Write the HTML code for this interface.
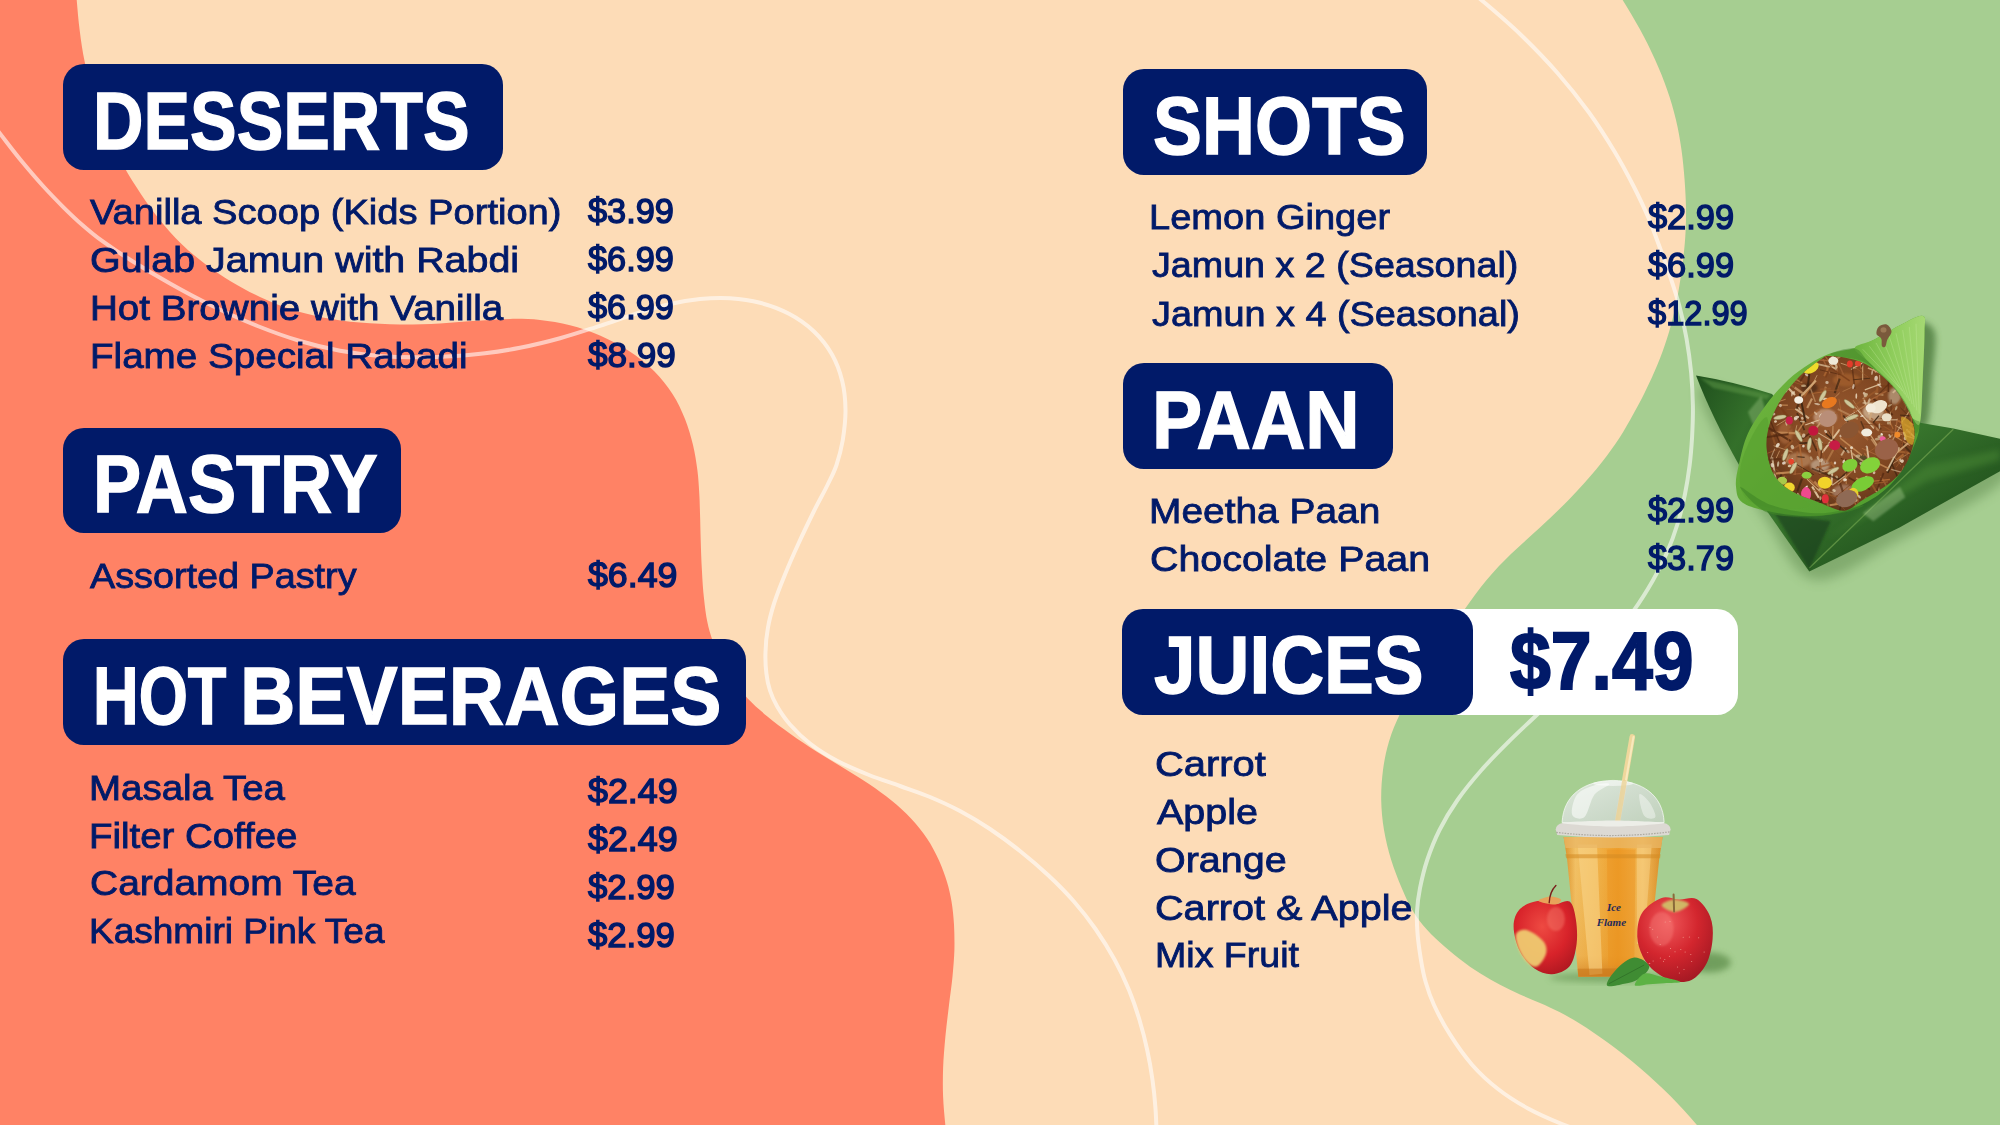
<!DOCTYPE html>
<html lang="en"><head><meta charset="utf-8"><title>Menu</title>
<style>
html,body{margin:0;padding:0}
body{width:2000px;height:1125px;overflow:hidden;position:relative;background:#FDDCB7;font-family:'Liberation Sans',sans-serif}
.bg{position:absolute;left:0;top:0}
.bx{position:absolute;border-radius:21px}
.t{position:absolute;white-space:pre;line-height:1;transform-origin:0 0;font-family:'Liberation Sans',sans-serif;margin:0;padding:0}
.h{font-size:81px;font-weight:700;color:#fff;-webkit-text-stroke:1.4px #fff;}
.hp{font-size:81px;font-weight:700;color:#011A69;-webkit-text-stroke:2.0px #011A69;}
.i{font-size:35.5px;font-weight:400;color:#011A69;-webkit-text-stroke:0.85px #011A69;}
.p{font-size:35.5px;font-weight:400;color:#011A69;-webkit-text-stroke:1.45px #011A69;}

</style></head><body>
<svg class="bg" width="2000" height="1125" viewBox="0 0 2000 1125"><rect width="2000" height="1125" fill="#FDDCB7"/><path d="M74.0,-40.0C74.4,-33.8 75.6,-14.2 76.5,-2.5C77.5,9.2 78.3,19.7 79.7,30.5C81.0,41.3 82.5,51.4 84.8,62.2C87.0,73.1 89.4,84.0 93.0,95.5C96.6,107.0 101.2,119.5 106.2,131.2C111.3,143.0 117.7,155.2 123.5,165.8C129.3,176.3 135.2,185.4 141.2,194.5C147.3,203.6 153.4,212.1 160.0,220.2C166.6,228.4 173.6,236.3 181.0,243.5C188.4,250.7 196.2,257.2 204.5,263.5C212.8,269.8 221.8,275.9 231.0,281.5C240.2,287.1 250.2,292.4 260.0,297.0C269.8,301.6 279.6,305.6 290.0,309.0C300.4,312.4 310.8,315.1 322.5,317.4C334.2,319.7 347.1,321.4 360.0,322.6C372.9,323.7 386.7,324.3 400.0,324.4C413.3,324.5 427.1,324.0 440.0,323.4C452.9,322.8 465.8,321.5 477.5,320.8C489.2,320.0 499.6,319.0 510.0,318.9C520.4,318.8 530.0,318.9 540.0,320.0C550.0,321.1 560.0,322.7 570.0,325.2C580.0,327.8 590.2,331.2 600.0,335.5C609.8,339.8 620.0,345.1 629.0,351.0C638.0,356.9 646.8,363.8 654.0,371.0C661.2,378.2 667.3,386.0 672.5,394.0C677.7,402.0 681.6,410.5 685.0,419.0C688.4,427.5 690.9,436.5 693.0,445.0C695.1,453.5 696.3,462.3 697.4,470.2C698.4,478.2 698.8,485.2 699.2,492.5C699.7,499.8 699.8,505.8 700.0,513.8C700.3,521.7 700.4,530.6 700.7,540.0C701.0,549.4 701.3,560.2 701.9,570.0C702.4,579.8 703.0,589.9 704.0,598.5C704.9,607.1 705.9,614.8 707.3,621.8C708.7,628.8 710.3,634.2 712.5,640.5C714.8,646.8 717.6,653.2 720.9,659.8C724.2,666.3 728.1,673.3 732.6,679.8C737.1,686.2 742.0,692.4 747.7,698.5C753.5,704.6 760.0,710.3 767.1,716.2C774.2,722.2 782.3,728.1 790.5,734.0C798.7,739.9 807.7,745.8 816.5,751.5C825.3,757.2 834.8,762.6 843.5,768.0C852.2,773.4 861.0,778.6 869.0,784.0C877.0,789.4 884.5,794.8 891.5,800.5C898.5,806.2 905.1,812.2 911.0,818.5C916.9,824.8 922.3,831.5 927.0,838.5C931.7,845.5 935.7,853.2 939.0,860.5C942.3,867.8 944.9,875.1 947.0,882.0C949.1,888.9 950.4,894.9 951.6,902.0C952.8,909.1 953.5,916.5 954.0,924.5C954.4,932.5 954.6,941.3 954.4,950.0C954.1,958.7 953.4,967.3 952.5,976.5C951.6,985.7 950.2,995.0 949.0,1005.0C947.8,1015.0 946.4,1026.0 945.4,1036.5C944.4,1047.0 943.5,1058.0 943.1,1068.0C942.8,1078.0 942.7,1086.8 943.1,1096.8C943.5,1106.7 944.5,1116.4 945.6,1127.8C946.8,1139.1 949.3,1158.8 950.0,1165.0L-50,1165L-50,-40Z" fill="#FF8265"/><path d="M1597.0,-40.0C1601.0,-33.8 1613.6,-14.5 1620.8,-3.0C1627.9,8.5 1634.0,18.6 1639.8,29.0C1645.5,39.4 1650.4,49.3 1655.0,59.5C1659.6,69.7 1663.8,79.9 1667.2,90.0C1670.8,100.1 1673.6,110.0 1676.0,120.0C1678.4,130.0 1680.1,140.0 1681.5,150.0C1682.9,160.0 1683.9,170.4 1684.6,180.0C1685.3,189.6 1685.8,199.0 1686.0,207.5C1686.1,216.0 1686.0,223.1 1685.6,231.2C1685.2,239.4 1684.5,247.3 1683.5,256.2C1682.5,265.2 1681.1,275.5 1679.5,285.0C1677.9,294.5 1676.1,304.1 1674.0,313.0C1671.9,321.9 1669.8,329.9 1667.0,338.5C1664.2,347.1 1661.2,355.6 1657.5,364.5C1653.8,373.4 1649.5,382.9 1645.0,392.0C1640.5,401.1 1635.4,410.6 1630.5,419.2C1625.6,427.9 1621.2,435.5 1615.5,443.8C1609.8,452.0 1604.1,459.9 1596.5,469.0C1588.9,478.1 1579.4,488.8 1570.0,498.5C1560.6,508.2 1549.8,518.3 1540.0,527.5C1530.2,536.7 1520.4,544.8 1511.5,553.5C1502.6,562.2 1494.7,570.3 1486.8,579.8C1478.8,589.2 1471.7,599.4 1464.0,610.2C1456.3,621.1 1448.3,633.1 1440.8,644.8C1433.2,656.4 1425.2,668.8 1418.5,680.1C1411.8,691.5 1405.4,702.6 1400.5,712.8C1395.6,723.0 1391.9,731.9 1389.0,741.4C1386.1,750.9 1384.3,760.2 1383.0,770.0C1381.7,779.8 1381.1,790.0 1381.2,800.0C1381.4,810.0 1382.3,820.0 1384.0,830.0C1385.7,840.0 1388.3,850.4 1391.2,860.0C1394.2,869.6 1398.1,879.4 1401.5,887.5C1404.9,895.6 1407.9,902.2 1411.5,908.5C1415.1,914.8 1418.2,919.6 1423.0,925.2C1427.8,930.9 1433.8,936.8 1440.0,942.5C1446.2,948.2 1453.3,954.1 1460.0,959.2C1466.7,964.4 1473.3,969.0 1480.0,973.2C1486.7,977.5 1493.3,981.2 1500.0,984.8C1506.7,988.3 1513.3,991.3 1520.0,994.4C1526.7,997.4 1533.5,1000.1 1540.0,1003.0C1546.5,1005.9 1552.3,1008.4 1559.0,1011.8C1565.7,1015.3 1571.8,1018.6 1580.0,1023.8C1588.2,1029.0 1598.0,1035.4 1608.0,1042.8C1618.0,1050.1 1629.6,1059.0 1640.0,1067.9C1650.4,1076.8 1660.5,1086.0 1670.4,1096.0C1680.3,1106.0 1689.4,1116.2 1699.3,1127.8C1709.2,1139.2 1724.9,1158.8 1730.0,1165.0L2050,1165L2050,-40Z" fill="#A6CE91"/><path d="M-22.0,105.0C-18.2,109.9 -6.8,124.9 0.5,134.2C7.8,143.6 14.3,152.3 21.5,161.0C28.7,169.7 36.4,178.7 43.5,186.5C50.6,194.3 57.7,201.5 64.0,207.8C70.3,214.0 75.1,218.7 81.5,224.2C87.9,229.8 94.0,235.1 102.5,241.2C111.0,247.4 121.2,254.2 132.5,261.2C143.8,268.3 156.7,276.0 170.0,283.5C183.3,291.0 197.9,298.9 212.5,306.0C227.1,313.1 242.9,320.2 257.5,326.0C272.1,331.8 286.2,336.9 300.0,341.0C313.8,345.1 326.7,348.2 340.0,350.8C353.3,353.2 366.7,354.9 380.0,356.0C393.3,357.1 407.5,357.2 420.0,357.2C432.5,357.2 444.2,356.7 455.0,356.0C465.8,355.3 474.2,354.6 485.0,353.2C495.8,351.9 507.5,350.2 520.0,347.8C532.5,345.2 546.7,341.9 560.0,338.2C573.3,334.6 587.1,329.9 600.0,325.8C612.9,321.6 625.8,316.9 637.5,313.2C649.2,309.6 659.6,306.4 670.0,304.0C680.4,301.6 690.0,300.0 700.0,299.0C710.0,298.0 720.0,297.6 730.0,298.2C740.0,298.9 750.2,300.2 760.0,302.8C769.8,305.3 780.0,309.0 789.0,313.8C798.0,318.5 806.8,324.7 814.0,331.5C821.2,338.3 827.3,346.2 832.0,354.5C836.7,362.8 840.0,371.8 842.2,381.0C844.5,390.2 845.4,400.2 845.5,410.0C845.6,419.8 844.2,430.8 842.8,440.0C841.2,449.2 839.0,457.5 836.5,465.0C834.0,472.5 831.2,477.3 827.5,485.0C823.8,492.7 818.8,501.2 814.0,511.0C809.2,520.8 803.4,532.8 798.5,543.5C793.6,554.2 788.8,565.1 784.8,575.0C780.7,584.9 777.1,594.2 774.2,603.0C771.4,611.8 769.3,619.8 767.9,628.0C766.4,636.2 765.7,644.4 765.5,652.0C765.2,659.6 765.6,667.1 766.4,673.5C767.1,679.9 768.2,685.0 770.0,690.5C771.8,696.0 773.9,700.8 777.2,706.5C780.6,712.2 784.5,718.3 790.0,724.5C795.5,730.7 802.1,737.4 810.0,743.5C817.9,749.6 827.7,755.8 837.5,761.0C847.3,766.2 858.6,770.8 869.0,775.0C879.4,779.2 889.8,782.3 900.0,786.0C910.2,789.7 920.0,792.8 930.0,797.0C940.0,801.2 950.0,805.7 960.0,811.0C970.0,816.3 980.0,822.3 990.0,829.0C1000.0,835.7 1010.2,843.2 1020.0,851.0C1029.8,858.8 1039.6,867.2 1048.5,875.5C1057.4,883.8 1065.7,892.1 1073.5,901.0C1081.3,909.9 1088.7,919.2 1095.5,929.0C1102.3,938.8 1108.9,949.3 1114.5,959.5C1120.1,969.7 1124.8,979.9 1129.0,990.0C1133.2,1000.1 1136.5,1010.0 1139.5,1020.0C1142.5,1030.0 1145.1,1040.0 1147.2,1050.0C1149.4,1060.0 1151.2,1070.6 1152.5,1080.0C1153.8,1089.4 1154.7,1097.9 1155.3,1106.2C1156.0,1114.6 1156.2,1121.0 1156.5,1130.0C1156.7,1139.0 1156.9,1155.0 1157.0,1160.0" fill="none" stroke="#fff" stroke-opacity=".58" stroke-width="4"/><path d="M1450.0,-25.0C1455.6,-20.5 1471.8,-8.2 1483.5,1.8C1495.2,11.7 1508.2,22.6 1520.5,34.5C1532.8,46.4 1546.1,60.0 1557.5,73.0C1568.9,86.0 1579.5,99.4 1589.0,112.5C1598.5,125.6 1606.9,138.9 1614.5,151.5C1622.1,164.1 1629.0,177.2 1634.5,188.0C1640.0,198.8 1643.9,207.4 1647.8,216.2C1651.6,225.1 1654.0,231.9 1657.5,241.2C1661.0,250.6 1665.1,261.8 1668.8,272.5C1672.4,283.2 1676.3,294.5 1679.2,305.5C1682.2,316.5 1684.5,327.2 1686.5,338.5C1688.5,349.8 1690.1,361.8 1691.2,373.0C1692.2,384.2 1692.7,395.1 1692.9,405.8C1693.1,416.4 1692.6,426.8 1692.1,436.8C1691.5,446.7 1690.8,456.0 1689.6,465.5C1688.4,475.0 1687.0,484.2 1685.0,494.0C1683.0,503.8 1680.5,514.2 1677.5,524.0C1674.5,533.8 1671.1,543.1 1667.0,552.5C1662.9,561.9 1658.6,570.5 1653.0,580.2C1647.4,590.0 1641.3,600.0 1633.5,610.8C1625.7,621.5 1616.4,633.4 1606.2,645.0C1596.1,656.6 1583.8,669.3 1572.5,680.6C1561.2,692.0 1549.3,702.9 1538.8,713.0C1528.2,723.2 1518.5,731.9 1509.0,741.4C1499.5,750.9 1490.1,760.2 1481.5,770.0C1472.9,779.8 1464.5,790.0 1457.5,800.0C1450.5,810.0 1444.5,820.0 1439.5,830.0C1434.5,840.0 1430.5,850.3 1427.2,860.0C1424.0,869.7 1421.7,879.7 1420.0,888.2C1418.3,896.8 1417.4,904.0 1417.0,911.5C1416.6,919.0 1416.9,925.4 1417.5,933.2C1418.1,941.1 1419.4,950.5 1420.8,958.8C1422.1,967.0 1423.5,974.8 1425.8,982.5C1428.0,990.2 1430.0,996.4 1434.0,1005.0C1438.0,1013.6 1443.4,1024.3 1449.8,1034.2C1456.1,1044.2 1464.0,1055.5 1472.0,1064.7C1480.0,1073.8 1488.7,1081.8 1498.0,1089.0C1507.3,1096.3 1517.3,1102.6 1528.0,1108.4C1538.7,1114.2 1550.0,1119.1 1562.0,1124.0C1574.0,1128.9 1593.7,1135.7 1600.0,1138.0" fill="none" stroke="#fff" stroke-opacity=".58" stroke-width="4"/></svg>
<div class="bx" style="left:63px;top:64px;width:439.5px;height:105.5px;background:#011A69"></div>
<div class="bx" style="left:63px;top:427.5px;width:338.0px;height:105.5px;background:#011A69"></div>
<div class="bx" style="left:63px;top:639px;width:683.0px;height:106.0px;background:#011A69"></div>
<div class="bx" style="left:1122.5px;top:69px;width:304.5px;height:106.0px;background:#011A69"></div>
<div class="bx" style="left:1122.5px;top:363px;width:270.5px;height:106.0px;background:#011A69"></div>
<div class="bx" style="left:1200px;top:609px;width:538.0px;height:106.0px;background:#fff"></div>
<div class="bx" style="left:1122px;top:609px;width:351.3px;height:106.0px;background:#011A69"></div>
<svg class="bg" width="2000" height="1125" viewBox="0 0 2000 1125">
<defs>
<filter id="bl3" x="-30%" y="-30%" width="160%" height="160%"><feGaussianBlur stdDeviation="3"/></filter>
<filter id="bl6" x="-30%" y="-30%" width="160%" height="160%"><feGaussianBlur stdDeviation="6"/></filter>
<filter id="bl1" x="-30%" y="-30%" width="160%" height="160%"><feGaussianBlur stdDeviation="1.2"/></filter>
<linearGradient id="dleaf" x1="0" y1="0" x2="1" y2="1"><stop offset="0" stop-color="#29622a"/><stop offset=".35" stop-color="#37742c"/><stop offset=".7" stop-color="#24561f"/><stop offset="1" stop-color="#183d17"/></linearGradient>
<linearGradient id="dleaf2" x1="0" y1="0" x2="1" y2=".6"><stop offset="0" stop-color="#1f4f1d"/><stop offset=".5" stop-color="#34702a"/><stop offset="1" stop-color="#295f23"/></linearGradient>
<linearGradient id="cone" x1="0" y1="0" x2="1" y2="1"><stop offset="0" stop-color="#7bbf45"/><stop offset=".5" stop-color="#5fa835"/><stop offset="1" stop-color="#4d9a2c"/></linearGradient>
<linearGradient id="flap" x1="0" y1="0" x2="1" y2="0"><stop offset="0" stop-color="#6db53e"/><stop offset=".55" stop-color="#8fcd5c"/><stop offset="1" stop-color="#a5d873"/></linearGradient>
<radialGradient id="fill" cx=".5" cy=".45" r=".6"><stop offset="0" stop-color="#9a5a30"/><stop offset=".7" stop-color="#7c4420"/><stop offset="1" stop-color="#573018"/></radialGradient>
<linearGradient id="juice" x1="0" y1="0" x2="1" y2="0"><stop offset="0" stop-color="#d98f28"/><stop offset=".12" stop-color="#f2c267"/><stop offset=".3" stop-color="#f1b650"/><stop offset=".55" stop-color="#ee9e2a"/><stop offset=".8" stop-color="#f3bd5e"/><stop offset="1" stop-color="#d78a24"/></linearGradient>
<linearGradient id="juiceV" x1="0" y1="0" x2="0" y2="1"><stop offset="0" stop-color="#e8a83f" stop-opacity=".0"/><stop offset=".85" stop-color="#e08a1c" stop-opacity=".25"/><stop offset="1" stop-color="#c9741a" stop-opacity=".7"/></linearGradient>
<linearGradient id="dome" x1="0" y1="0" x2="1" y2="1"><stop offset="0" stop-color="#eff1f1"/><stop offset=".5" stop-color="#dbe0de"/><stop offset="1" stop-color="#c8d2c8"/></linearGradient>
<radialGradient id="appleL" cx=".45" cy=".35" r=".75"><stop offset="0" stop-color="#ee4a42"/><stop offset=".55" stop-color="#d8232a"/><stop offset="1" stop-color="#a8161f"/></radialGradient>
<radialGradient id="appleR" cx=".4" cy=".3" r=".8"><stop offset="0" stop-color="#f0585a"/><stop offset=".5" stop-color="#d3262e"/><stop offset="1" stop-color="#9c1621"/></radialGradient>
</defs>
<g id="paan">
<path d="M1700.0,388.0C1706.2,378.2 1735.1,399.1 1772.0,406.7C1808.9,414.2 1883.3,426.2 1921.3,433.3C1959.3,440.4 1986.9,440.9 2000.0,449.3C2013.1,457.8 2016.7,468.9 2000.0,484.0C1983.3,499.1 1930.9,524.0 1900.0,540.0C1869.1,556.0 1836.9,583.1 1814.7,580.0C1792.4,576.9 1780.0,540.4 1766.7,521.3C1753.3,502.2 1745.8,487.6 1734.7,465.3C1723.6,443.1 1693.8,397.8 1700.0,388.0Z" fill="#3d6b2f" opacity=".35" filter="url(#bl6)"/>
<path d="M1916.0,324.0C1919.1,318.2 1932.0,322.7 1934.7,332.0C1937.3,341.3 1933.3,364.4 1932.0,380.0C1930.7,395.6 1930.2,418.7 1926.7,425.3C1923.1,432.0 1912.4,429.8 1910.7,420.0C1908.9,410.2 1915.1,382.7 1916.0,366.7C1916.9,350.7 1912.9,329.8 1916.0,324.0Z" fill="#3f6f33" opacity=".7" filter="url(#bl3)"/>
<path d="M1696.0,375.5 Q1732.0,381.3 1772.0,393.9 L1804.0,433.3 L1774.7,505.3 L1740.0,466.7 Q1712.0,417.3 1696.0,375.5Z" fill="url(#dleaf2)"/>
<path d="M1700.0,377.9 L1770.7,394.9 1766.7,399.2 1713.3,388.0Z" fill="#5a9444" opacity=".55" filter="url(#bl1)"/>
<path d="M1766.7,510.7 L1846.7,449.3 1920.0,422.7 1953.3,428.5 2000.0,438.7 2000.0,471.2 1900.0,527.2 1809.3,571.5 1788.0,541.3Z" fill="url(#dleaf)"/>
<path d="M1809.3,568.0 L1953.3,429.3" stroke="#6a9c4a" stroke-width="1.3" opacity=".8"/>
<path d="M1825.3,540.0 L1926.7,465.3 2000.0,449.3 2000.0,460.0 1926.7,481.3Z" fill="#4f8f38" opacity=".45" filter="url(#bl3)"/>
<path d="M1774.7,513.3 L1809.3,569.3 1830.7,521.3Z" fill="#17391a" opacity=".55" filter="url(#bl1)"/>
<path d="M1862.7,513.3 L1900.0,486.7 1905.3,497.3 1873.3,521.3Z" fill="#b9d9a0" opacity=".35" filter="url(#bl1)"/>
<path d="M1748.0,412.0 L1761.3,396.0 1766.7,414.7 1753.3,425.3Z" fill="#a8cf8c" opacity=".35" filter="url(#bl1)"/>
<path d="M1922.7,316.0C1926.8,317.1 1924.5,321.3 1924.5,332.0C1924.5,342.7 1923.4,364.9 1922.7,380.0C1921.9,395.1 1921.3,412.0 1920.0,422.7C1918.7,433.3 1918.0,435.6 1914.7,444.0C1911.3,452.4 1906.0,464.9 1900.0,473.3C1894.0,481.8 1887.6,488.4 1878.7,494.7C1869.8,500.9 1858.2,507.1 1846.7,510.7C1835.1,514.2 1821.8,515.8 1809.3,516.0C1796.9,516.2 1783.1,514.2 1772.0,512.0C1760.9,509.8 1748.7,506.9 1742.7,502.7C1736.7,498.4 1736.7,492.9 1736.0,486.7C1735.3,480.4 1736.7,474.2 1738.7,465.3C1740.7,456.4 1743.3,443.6 1748.0,433.3C1752.7,423.1 1760.0,412.9 1766.7,404.0C1773.3,395.1 1780.9,386.7 1788.0,380.0C1795.1,373.3 1802.2,368.4 1809.3,364.0C1816.4,359.6 1823.1,356.0 1830.7,353.3C1838.2,350.7 1847.6,350.2 1854.7,348.0C1861.8,345.8 1865.8,343.8 1873.3,340.0C1880.9,336.2 1891.8,329.3 1900.0,325.3C1908.2,321.3 1918.6,314.9 1922.7,316.0Z" fill="url(#cone)"/>
<path d="M1854.7,348.0C1855.6,344.4 1865.8,343.8 1873.3,340.0C1880.9,336.2 1891.8,329.3 1900.0,325.3C1908.2,321.3 1918.6,314.9 1922.7,316.0C1926.8,317.1 1924.5,321.3 1924.5,332.0C1924.5,342.7 1923.4,364.9 1922.7,380.0C1921.9,395.1 1921.8,416.4 1920.0,422.7C1918.2,428.9 1915.3,421.8 1912.0,417.3C1908.7,412.9 1904.7,402.7 1900.0,396.0C1895.3,389.3 1889.3,383.1 1884.0,377.3C1878.7,371.6 1872.9,366.2 1868.0,361.3C1863.1,356.4 1853.8,351.6 1854.7,348.0Z" fill="url(#flap)"/>
<path d="M1862.7,349.3 L1900.0,388.0" stroke="#c8ecA0" stroke-width=".7" opacity=".45"/>
<path d="M1869.3,346.1 L1902.4,391.2" stroke="#c8ecA0" stroke-width=".7" opacity=".45"/>
<path d="M1876.0,342.9 L1904.8,394.4" stroke="#c8ecA0" stroke-width=".7" opacity=".45"/>
<path d="M1882.7,339.7 L1907.2,397.6" stroke="#c8ecA0" stroke-width=".7" opacity=".45"/>
<path d="M1889.3,336.5 L1909.6,400.8" stroke="#c8ecA0" stroke-width=".7" opacity=".45"/>
<path d="M1896.0,333.3 L1912.0,404.0" stroke="#c8ecA0" stroke-width=".7" opacity=".45"/>
<path d="M1902.7,330.1 L1914.4,407.2" stroke="#c8ecA0" stroke-width=".7" opacity=".45"/>
<path d="M1909.3,326.9 L1916.8,410.4" stroke="#c8ecA0" stroke-width=".7" opacity=".45"/>
<path d="M1916.0,323.7 L1919.2,413.6" stroke="#c8ecA0" stroke-width=".7" opacity=".45"/>
<path d="M1740.0,470.7C1740.9,460.9 1746.2,447.6 1750.7,438.7C1755.1,429.8 1763.6,415.6 1766.7,417.3C1769.8,419.1 1767.6,438.7 1769.3,449.3C1771.1,460.0 1770.7,472.0 1777.3,481.3C1784.0,490.7 1810.2,500.9 1809.3,505.3C1808.4,509.8 1782.7,509.3 1772.0,508.0C1761.3,506.7 1750.7,503.6 1745.3,497.3C1740.0,491.1 1739.1,480.4 1740.0,470.7Z" fill="#5aa331" opacity=".7"/>
<path d="M1740.0,486.7C1740.9,485.5 1758.7,500.9 1772.0,505.3C1785.3,509.8 1804.9,513.3 1820.0,513.3C1835.1,513.3 1858.2,505.6 1862.7,505.3C1867.1,505.1 1855.6,510.1 1846.7,512.0C1837.8,513.9 1822.7,516.5 1809.3,516.5C1796.0,516.6 1778.2,517.2 1766.7,512.3C1755.1,507.3 1739.1,487.8 1740.0,486.7Z" fill="#3f8526" opacity=".6"/>
<clipPath id="fc"><path d="M1830.7,356.0C1837.8,356.4 1852.9,358.2 1862.7,362.7C1872.4,367.1 1881.8,374.9 1889.3,382.7C1896.9,390.4 1903.8,400.9 1908.0,409.3C1912.2,417.8 1914.7,424.9 1914.7,433.3C1914.7,441.8 1911.8,452.0 1908.0,460.0C1904.2,468.0 1899.6,474.7 1892.0,481.3C1884.4,488.0 1870.7,495.1 1862.7,500.0C1854.7,504.9 1851.1,510.2 1844.0,510.7C1836.9,511.1 1828.4,505.8 1820.0,502.7C1811.6,499.6 1800.9,496.4 1793.3,492.0C1785.8,487.6 1779.1,483.1 1774.7,476.0C1770.2,468.9 1767.6,457.8 1766.7,449.3C1765.8,440.9 1767.1,433.3 1769.3,425.3C1771.6,417.3 1775.1,409.3 1780.0,401.3C1784.9,393.3 1792.0,384.2 1798.7,377.3C1805.3,370.4 1814.7,363.6 1820.0,360.0C1825.3,356.4 1823.6,355.6 1830.7,356.0Z"/></clipPath>
<path d="M1830.7,356.0C1837.8,356.4 1852.9,358.2 1862.7,362.7C1872.4,367.1 1881.8,374.9 1889.3,382.7C1896.9,390.4 1903.8,400.9 1908.0,409.3C1912.2,417.8 1914.7,424.9 1914.7,433.3C1914.7,441.8 1911.8,452.0 1908.0,460.0C1904.2,468.0 1899.6,474.7 1892.0,481.3C1884.4,488.0 1870.7,495.1 1862.7,500.0C1854.7,504.9 1851.1,510.2 1844.0,510.7C1836.9,511.1 1828.4,505.8 1820.0,502.7C1811.6,499.6 1800.9,496.4 1793.3,492.0C1785.8,487.6 1779.1,483.1 1774.7,476.0C1770.2,468.9 1767.6,457.8 1766.7,449.3C1765.8,440.9 1767.1,433.3 1769.3,425.3C1771.6,417.3 1775.1,409.3 1780.0,401.3C1784.9,393.3 1792.0,384.2 1798.7,377.3C1805.3,370.4 1814.7,363.6 1820.0,360.0C1825.3,356.4 1823.6,355.6 1830.7,356.0Z" fill="url(#fill)"/>
<g clip-path="url(#fc)">
<ellipse cx="1825.3" cy="417.3" rx="11.7" ry="8.5" fill="#c9a184" opacity="0.75" filter="url(#bl1)"/>
<ellipse cx="1798.7" cy="460.0" rx="12.8" ry="7.5" fill="#b98a62" opacity="0.7" filter="url(#bl1)"/>
<ellipse cx="1873.3" cy="412.0" rx="10.7" ry="8.5" fill="#d9c2a4" opacity="0.7" filter="url(#bl1)"/>
<ellipse cx="1886.7" cy="449.3" rx="10.7" ry="9.6" fill="#b07a5c" opacity="0.8" filter="url(#bl1)"/>
<ellipse cx="1844.0" cy="492.0" rx="11.7" ry="7.5" fill="#a98067" opacity="0.8" filter="url(#bl1)"/>
<ellipse cx="1785.3" cy="433.3" rx="7.5" ry="10.7" fill="#a8683c" opacity="0.7" filter="url(#bl1)"/>
<ellipse cx="1846.7" cy="380.0" rx="13.9" ry="6.4" fill="#a5622f" opacity="0.7" filter="url(#bl1)"/>
<ellipse cx="1820.0" cy="465.3" rx="9.6" ry="6.4" fill="#d4c4ae" opacity="0.6" filter="url(#bl1)"/>
<ellipse cx="1862.7" cy="460.0" rx="8.5" ry="5.3" fill="#3c4a2a" opacity="0.6" filter="url(#bl1)"/>
<ellipse cx="1809.3" cy="388.0" rx="8.5" ry="5.3" fill="#4a2a18" opacity="0.7" filter="url(#bl1)"/>
<ellipse cx="1894.7" cy="396.0" rx="6.4" ry="8.5" fill="#cbb79c" opacity="0.6" filter="url(#bl1)"/>
<path d="M1817.2,375.1L1812.8,383.6" stroke="#d2a878" stroke-width="0.9" opacity="0.78"/>
<path d="M1894.4,386.9L1910.7,391.5" stroke="#552a12" stroke-width="0.9" opacity="0.72"/>
<path d="M1882.0,368.2L1898.3,382.0" stroke="#9b5a2c" stroke-width="1.6" opacity="0.71"/>
<path d="M1918.9,360.2L1906.1,366.3" stroke="#7a3e1a" stroke-width="1.6" opacity="0.78"/>
<path d="M1840.8,458.3L1859.9,464.7" stroke="#552a12" stroke-width="1.3" opacity="0.77"/>
<path d="M1767.1,358.4L1785.0,372.0" stroke="#8b4b25" stroke-width="1.9" opacity="0.74"/>
<path d="M1900.4,407.8L1908.8,416.1" stroke="#552a12" stroke-width="0.9" opacity="0.67"/>
<path d="M1838.9,398.8L1842.3,419.5" stroke="#b06a35" stroke-width="1.0" opacity="0.72"/>
<path d="M1879.6,375.1L1879.9,383.9" stroke="#e0c6a0" stroke-width="0.9" opacity="0.77"/>
<path d="M1880.8,475.8L1888.2,489.4" stroke="#a9673a" stroke-width="1.6" opacity="0.73"/>
<path d="M1891.2,491.1L1893.0,513.2" stroke="#9b5a2c" stroke-width="1.8" opacity="0.67"/>
<path d="M1851.0,449.9L1855.0,472.8" stroke="#e0c6a0" stroke-width="1.3" opacity="0.93"/>
<path d="M1819.6,444.2L1819.9,456.8" stroke="#c48a55" stroke-width="1.0" opacity="0.65"/>
<path d="M1816.5,488.6L1833.6,493.0" stroke="#d2a878" stroke-width="1.2" opacity="0.60"/>
<path d="M1839.7,429.5L1822.2,452.7" stroke="#e0c6a0" stroke-width="2.0" opacity="0.93"/>
<path d="M1784.4,378.9L1794.0,387.6" stroke="#a9673a" stroke-width="2.0" opacity="0.62"/>
<path d="M1809.9,368.1L1807.6,389.0" stroke="#3b2411" stroke-width="2.1" opacity="0.83"/>
<path d="M1846.1,447.6L1841.2,455.4" stroke="#e0c6a0" stroke-width="1.9" opacity="0.71"/>
<path d="M1828.2,367.8L1824.3,376.3" stroke="#b06a35" stroke-width="2.2" opacity="0.73"/>
<path d="M1773.6,445.7L1792.6,452.1" stroke="#d2a878" stroke-width="0.9" opacity="0.70"/>
<path d="M1772.4,486.0L1768.5,496.5" stroke="#c48a55" stroke-width="2.1" opacity="0.79"/>
<path d="M1836.9,359.4L1838.0,388.3" stroke="#a9673a" stroke-width="1.5" opacity="0.58"/>
<path d="M1773.3,399.5L1790.6,418.5" stroke="#7a3e1a" stroke-width="1.5" opacity="0.63"/>
<path d="M1916.6,400.6L1901.1,423.3" stroke="#d2a878" stroke-width="1.2" opacity="0.81"/>
<path d="M1781.0,473.1L1779.5,500.4" stroke="#3b2411" stroke-width="1.9" opacity="0.76"/>
<path d="M1873.3,398.8L1892.7,415.1" stroke="#552a12" stroke-width="1.9" opacity="0.88"/>
<path d="M1877.6,383.3L1876.7,398.8" stroke="#9b5a2c" stroke-width="2.2" opacity="0.87"/>
<path d="M1839.7,378.7L1834.7,393.2" stroke="#3b2411" stroke-width="2.1" opacity="0.70"/>
<path d="M1794.6,387.5L1804.6,394.7" stroke="#c9996a" stroke-width="2.2" opacity="0.79"/>
<path d="M1761.8,487.0L1772.1,506.2" stroke="#e0c6a0" stroke-width="1.0" opacity="0.71"/>
<path d="M1881.0,383.9L1864.8,389.8" stroke="#e0c6a0" stroke-width="1.3" opacity="0.87"/>
<path d="M1907.5,403.8L1916.1,430.7" stroke="#7a3e1a" stroke-width="1.0" opacity="0.60"/>
<path d="M1793.8,492.8L1784.7,499.1" stroke="#c9996a" stroke-width="2.2" opacity="0.81"/>
<path d="M1815.2,439.2L1822.8,442.5" stroke="#e0c6a0" stroke-width="0.9" opacity="0.85"/>
<path d="M1776.6,500.9L1798.4,516.2" stroke="#9b5a2c" stroke-width="1.2" opacity="0.67"/>
<path d="M1796.8,440.5L1808.4,452.9" stroke="#7a3e1a" stroke-width="0.9" opacity="0.85"/>
<path d="M1908.7,453.2L1892.8,463.7" stroke="#d2a878" stroke-width="1.0" opacity="0.61"/>
<path d="M1850.9,484.2L1834.9,497.8" stroke="#7a3e1a" stroke-width="1.0" opacity="0.74"/>
<path d="M1870.0,433.9L1879.9,450.2" stroke="#d2a878" stroke-width="1.5" opacity="0.86"/>
<path d="M1894.9,362.3L1902.2,367.3" stroke="#b06a35" stroke-width="1.5" opacity="0.77"/>
<path d="M1878.3,486.8L1882.0,507.5" stroke="#d2a878" stroke-width="1.6" opacity="0.63"/>
<path d="M1815.8,429.2L1800.3,440.0" stroke="#552a12" stroke-width="1.8" opacity="0.90"/>
<path d="M1910.0,382.3L1904.8,410.0" stroke="#a9673a" stroke-width="1.0" opacity="0.60"/>
<path d="M1829.2,363.9L1836.2,370.5" stroke="#e0c6a0" stroke-width="1.2" opacity="0.60"/>
<path d="M1886.1,494.2L1879.2,508.4" stroke="#c48a55" stroke-width="2.0" opacity="0.94"/>
<path d="M1796.6,494.6L1802.3,512.1" stroke="#e0c6a0" stroke-width="2.0" opacity="0.61"/>
<path d="M1828.2,430.4L1834.1,441.1" stroke="#3b2411" stroke-width="0.9" opacity="0.70"/>
<path d="M1822.0,420.4L1812.3,433.4" stroke="#d2a878" stroke-width="1.7" opacity="0.75"/>
<path d="M1787.6,499.5L1765.0,517.2" stroke="#b06a35" stroke-width="0.9" opacity="0.66"/>
<path d="M1911.1,375.2L1892.8,392.9" stroke="#e0c6a0" stroke-width="1.9" opacity="0.65"/>
<path d="M1791.5,487.0L1786.4,509.4" stroke="#b06a35" stroke-width="1.2" opacity="0.87"/>
<path d="M1791.3,491.3L1796.8,497.6" stroke="#b06a35" stroke-width="1.9" opacity="0.58"/>
<path d="M1902.6,362.6L1886.5,370.0" stroke="#3b2411" stroke-width="2.2" opacity="0.72"/>
<path d="M1891.9,450.6L1914.8,453.7" stroke="#b06a35" stroke-width="2.2" opacity="0.65"/>
<path d="M1797.5,491.3L1789.9,509.1" stroke="#552a12" stroke-width="1.2" opacity="0.75"/>
<path d="M1786.6,409.3L1799.9,410.0" stroke="#9b5a2c" stroke-width="0.8" opacity="0.75"/>
<path d="M1906.4,429.4L1919.0,441.7" stroke="#e0c6a0" stroke-width="1.9" opacity="0.72"/>
<path d="M1837.5,476.2L1843.7,494.0" stroke="#552a12" stroke-width="2.2" opacity="0.69"/>
<path d="M1894.4,457.7L1887.5,472.9" stroke="#3b2411" stroke-width="2.2" opacity="0.88"/>
<path d="M1776.8,449.6L1760.8,455.9" stroke="#9b5a2c" stroke-width="0.9" opacity="0.89"/>
<path d="M1892.5,454.6L1900.8,464.8" stroke="#c48a55" stroke-width="0.9" opacity="0.62"/>
<path d="M1803.7,349.7L1810.0,363.4" stroke="#d2a878" stroke-width="1.3" opacity="0.56"/>
<path d="M1892.1,385.6L1904.8,393.8" stroke="#b06a35" stroke-width="1.5" opacity="0.75"/>
<path d="M1789.9,434.0L1803.5,434.2" stroke="#b06a35" stroke-width="1.0" opacity="0.78"/>
<path d="M1827.4,397.8L1823.6,406.8" stroke="#d2a878" stroke-width="2.0" opacity="0.61"/>
<path d="M1903.6,465.7L1896.4,488.9" stroke="#a9673a" stroke-width="1.0" opacity="0.84"/>
<path d="M1874.5,356.1L1851.0,369.5" stroke="#e0c6a0" stroke-width="1.4" opacity="0.83"/>
<path d="M1849.3,489.7L1835.0,503.8" stroke="#9b5a2c" stroke-width="2.0" opacity="0.78"/>
<path d="M1903.7,456.3L1896.3,466.9" stroke="#9b5a2c" stroke-width="0.9" opacity="0.80"/>
<path d="M1909.3,409.8L1910.6,418.7" stroke="#9b5a2c" stroke-width="1.7" opacity="0.82"/>
<path d="M1849.4,349.4L1830.1,363.6" stroke="#d2a878" stroke-width="2.1" opacity="0.59"/>
<path d="M1844.2,458.8L1846.3,483.9" stroke="#c48a55" stroke-width="1.1" opacity="0.85"/>
<path d="M1799.5,443.6L1802.7,469.4" stroke="#b06a35" stroke-width="1.5" opacity="0.82"/>
<path d="M1883.3,447.1L1879.1,455.8" stroke="#7a3e1a" stroke-width="1.3" opacity="0.81"/>
<path d="M1861.8,448.3L1878.5,455.8" stroke="#a9673a" stroke-width="1.2" opacity="0.82"/>
<path d="M1864.2,453.0L1875.8,468.0" stroke="#a9673a" stroke-width="1.5" opacity="0.86"/>
<path d="M1912.3,436.8L1917.7,445.0" stroke="#a9673a" stroke-width="0.8" opacity="0.73"/>
<path d="M1888.0,499.0L1890.2,512.5" stroke="#552a12" stroke-width="2.1" opacity="0.92"/>
<path d="M1782.6,365.1L1773.0,374.8" stroke="#3b2411" stroke-width="1.0" opacity="0.88"/>
<path d="M1846.5,488.0L1838.8,498.4" stroke="#a9673a" stroke-width="1.4" opacity="0.61"/>
<path d="M1905.1,450.2L1912.0,472.7" stroke="#8b4b25" stroke-width="1.3" opacity="0.68"/>
<path d="M1901.3,347.1L1883.0,365.4" stroke="#b06a35" stroke-width="2.1" opacity="0.63"/>
<path d="M1765.1,467.1L1771.7,473.8" stroke="#8b4b25" stroke-width="2.2" opacity="0.79"/>
<path d="M1817.6,418.8L1823.5,425.6" stroke="#b06a35" stroke-width="0.9" opacity="0.81"/>
<path d="M1870.1,378.2L1852.9,379.8" stroke="#3b2411" stroke-width="1.1" opacity="0.70"/>
<path d="M1918.4,486.8L1900.5,498.7" stroke="#d2a878" stroke-width="1.6" opacity="0.84"/>
<path d="M1772.2,457.4L1775.9,481.2" stroke="#e0c6a0" stroke-width="2.0" opacity="0.74"/>
<path d="M1895.6,436.8L1910.1,445.4" stroke="#c48a55" stroke-width="1.2" opacity="0.85"/>
<path d="M1915.9,389.9L1909.1,402.6" stroke="#d2a878" stroke-width="1.7" opacity="0.60"/>
<path d="M1862.7,355.0L1862.7,380.3" stroke="#d2a878" stroke-width="1.1" opacity="0.91"/>
<path d="M1910.0,423.0L1921.0,428.2" stroke="#b06a35" stroke-width="1.0" opacity="0.77"/>
<path d="M1819.4,409.5L1809.3,416.4" stroke="#9b5a2c" stroke-width="1.8" opacity="0.72"/>
<path d="M1825.6,430.0L1831.3,444.1" stroke="#9b5a2c" stroke-width="1.5" opacity="0.78"/>
<path d="M1821.6,449.8L1819.3,474.6" stroke="#552a12" stroke-width="0.9" opacity="0.91"/>
<path d="M1822.5,448.7L1825.7,463.0" stroke="#9b5a2c" stroke-width="1.0" opacity="0.72"/>
<path d="M1889.9,479.5L1871.5,481.3" stroke="#b06a35" stroke-width="1.3" opacity="0.92"/>
<path d="M1896.6,487.7L1883.3,488.9" stroke="#b06a35" stroke-width="1.1" opacity="0.61"/>
<path d="M1921.6,366.9L1902.0,378.8" stroke="#a9673a" stroke-width="0.9" opacity="0.86"/>
<path d="M1767.8,371.1L1765.9,379.7" stroke="#c48a55" stroke-width="2.1" opacity="0.80"/>
<path d="M1849.3,420.2L1841.8,427.1" stroke="#c48a55" stroke-width="1.5" opacity="0.78"/>
<path d="M1825.9,386.7L1823.3,394.5" stroke="#c48a55" stroke-width="2.2" opacity="0.66"/>
<path d="M1807.0,479.2L1820.9,492.5" stroke="#d2a878" stroke-width="1.1" opacity="0.93"/>
<path d="M1862.6,402.9L1881.2,404.2" stroke="#e0c6a0" stroke-width="1.7" opacity="0.58"/>
<path d="M1797.0,413.1L1804.4,430.1" stroke="#3b2411" stroke-width="1.8" opacity="0.69"/>
<path d="M1817.9,346.7L1833.8,367.4" stroke="#b06a35" stroke-width="1.1" opacity="0.94"/>
<path d="M1808.5,478.6L1818.0,487.0" stroke="#c48a55" stroke-width="1.0" opacity="0.80"/>
<path d="M1857.1,481.0L1858.4,508.4" stroke="#9b5a2c" stroke-width="2.1" opacity="0.61"/>
<path d="M1830.9,388.5L1819.9,389.4" stroke="#9b5a2c" stroke-width="1.8" opacity="0.62"/>
<path d="M1830.9,461.8L1836.7,470.5" stroke="#b06a35" stroke-width="2.1" opacity="0.68"/>
<path d="M1797.4,497.6L1791.3,503.9" stroke="#e0c6a0" stroke-width="1.8" opacity="0.89"/>
<path d="M1909.2,422.8L1918.3,426.1" stroke="#b06a35" stroke-width="1.3" opacity="0.93"/>
<path d="M1778.9,500.4L1791.3,509.9" stroke="#c48a55" stroke-width="2.0" opacity="0.72"/>
<path d="M1768.6,416.5L1779.4,441.9" stroke="#552a12" stroke-width="1.3" opacity="0.84"/>
<path d="M1829.9,446.2L1845.1,461.2" stroke="#8b4b25" stroke-width="0.9" opacity="0.56"/>
<path d="M1767.7,489.7L1784.3,507.0" stroke="#c9996a" stroke-width="1.3" opacity="0.66"/>
<path d="M1901.8,442.9L1917.6,460.0" stroke="#3b2411" stroke-width="2.1" opacity="0.67"/>
<path d="M1886.0,440.0L1862.9,456.2" stroke="#b06a35" stroke-width="0.8" opacity="0.64"/>
<path d="M1845.7,502.8L1829.6,505.2" stroke="#c48a55" stroke-width="2.1" opacity="0.88"/>
<path d="M1772.6,432.4L1800.4,433.2" stroke="#c48a55" stroke-width="2.0" opacity="0.86"/>
<path d="M1853.1,400.1L1861.6,413.3" stroke="#c9996a" stroke-width="0.9" opacity="0.63"/>
<path d="M1874.8,393.4L1883.4,395.1" stroke="#d2a878" stroke-width="1.6" opacity="0.61"/>
<path d="M1820.0,369.9L1840.8,374.7" stroke="#552a12" stroke-width="0.9" opacity="0.75"/>
<path d="M1866.4,419.5L1878.9,430.8" stroke="#c9996a" stroke-width="2.0" opacity="0.64"/>
<path d="M1856.1,467.2L1838.1,484.1" stroke="#c48a55" stroke-width="1.2" opacity="0.78"/>
<path d="M1817.0,466.3L1827.7,474.0" stroke="#552a12" stroke-width="1.1" opacity="0.66"/>
<path d="M1895.7,383.8L1908.7,386.5" stroke="#552a12" stroke-width="1.5" opacity="0.64"/>
<path d="M1892.5,456.9L1882.3,457.2" stroke="#a9673a" stroke-width="2.0" opacity="0.64"/>
<path d="M1839.6,411.4L1827.6,416.3" stroke="#9b5a2c" stroke-width="1.1" opacity="0.94"/>
<path d="M1848.6,487.7L1858.9,512.1" stroke="#a9673a" stroke-width="1.6" opacity="0.86"/>
<path d="M1870.8,346.5L1861.1,367.5" stroke="#3b2411" stroke-width="1.1" opacity="0.70"/>
<path d="M1780.5,380.1L1795.0,395.0" stroke="#e0c6a0" stroke-width="2.1" opacity="0.88"/>
<path d="M1884.8,409.5L1893.1,429.0" stroke="#b06a35" stroke-width="1.1" opacity="0.87"/>
<path d="M1840.7,363.2L1856.3,368.4" stroke="#d2a878" stroke-width="1.0" opacity="0.76"/>
<path d="M1854.6,406.6L1873.8,428.5" stroke="#e0c6a0" stroke-width="1.2" opacity="0.93"/>
<path d="M1809.7,436.0L1817.0,451.2" stroke="#3b2411" stroke-width="1.7" opacity="0.71"/>
<path d="M1826.0,496.1L1828.3,507.2" stroke="#b06a35" stroke-width="1.9" opacity="0.71"/>
<path d="M1894.9,425.3L1902.1,429.3" stroke="#d2a878" stroke-width="1.0" opacity="0.87"/>
<path d="M1837.5,441.9L1814.4,447.3" stroke="#7a3e1a" stroke-width="1.0" opacity="0.66"/>
<path d="M1835.8,496.0L1853.2,502.2" stroke="#552a12" stroke-width="1.2" opacity="0.88"/>
<path d="M1767.4,488.4L1778.9,505.9" stroke="#e0c6a0" stroke-width="1.3" opacity="0.91"/>
<path d="M1848.5,477.6L1870.1,489.5" stroke="#552a12" stroke-width="1.7" opacity="0.80"/>
<path d="M1796.9,424.8L1795.0,433.5" stroke="#d2a878" stroke-width="1.0" opacity="0.69"/>
<path d="M1794.1,502.8L1783.9,509.4" stroke="#d2a878" stroke-width="2.0" opacity="0.82"/>
<path d="M1863.4,397.8L1869.4,414.5" stroke="#e0c6a0" stroke-width="1.9" opacity="0.81"/>
<path d="M1810.0,387.1L1815.4,402.0" stroke="#d2a878" stroke-width="1.4" opacity="0.56"/>
<path d="M1850.1,423.5L1868.1,439.9" stroke="#a9673a" stroke-width="2.0" opacity="0.87"/>
<path d="M1823.1,359.3L1829.8,373.5" stroke="#a9673a" stroke-width="1.5" opacity="0.81"/>
<path d="M1779.9,374.4L1765.6,377.9" stroke="#d2a878" stroke-width="0.9" opacity="0.85"/>
<path d="M1903.6,454.3L1897.0,459.6" stroke="#b06a35" stroke-width="2.2" opacity="0.84"/>
<path d="M1897.6,385.4L1879.1,386.5" stroke="#7a3e1a" stroke-width="1.8" opacity="0.84"/>
<path d="M1802.0,478.6L1797.4,491.1" stroke="#3b2411" stroke-width="2.1" opacity="0.66"/>
<path d="M1888.6,364.4L1888.4,392.0" stroke="#552a12" stroke-width="1.6" opacity="0.80"/>
<path d="M1795.4,408.7L1808.9,418.4" stroke="#e0c6a0" stroke-width="2.1" opacity="0.82"/>
<path d="M1904.5,378.8L1896.3,385.4" stroke="#d2a878" stroke-width="0.9" opacity="0.89"/>
<path d="M1911.7,414.7L1910.2,437.4" stroke="#b06a35" stroke-width="1.2" opacity="0.76"/>
<path d="M1891.4,462.8L1897.7,477.5" stroke="#3b2411" stroke-width="1.6" opacity="0.69"/>
<path d="M1870.7,418.1L1891.0,430.7" stroke="#9b5a2c" stroke-width="1.2" opacity="0.76"/>
<path d="M1825.7,499.9L1800.2,510.9" stroke="#3b2411" stroke-width="1.8" opacity="0.85"/>
<path d="M1803.0,393.2L1796.5,408.8" stroke="#3b2411" stroke-width="2.1" opacity="0.60"/>
<path d="M1796.6,456.7L1804.6,457.3" stroke="#3b2411" stroke-width="1.2" opacity="0.76"/>
<path d="M1843.3,415.5L1849.6,424.3" stroke="#3b2411" stroke-width="1.7" opacity="0.74"/>
<path d="M1782.8,497.0L1790.8,504.7" stroke="#b06a35" stroke-width="0.9" opacity="0.61"/>
<path d="M1877.9,389.7L1854.2,405.7" stroke="#9b5a2c" stroke-width="1.7" opacity="0.77"/>
<path d="M1816.5,442.1L1821.4,469.6" stroke="#a9673a" stroke-width="1.1" opacity="0.91"/>
<path d="M1771.3,432.0L1775.1,444.5" stroke="#9b5a2c" stroke-width="2.1" opacity="0.59"/>
<path d="M1851.3,452.7L1865.0,462.5" stroke="#d2a878" stroke-width="1.7" opacity="0.75"/>
<path d="M1856.2,478.0L1868.7,485.6" stroke="#c48a55" stroke-width="1.7" opacity="0.95"/>
<path d="M1875.8,422.0L1873.9,437.9" stroke="#8b4b25" stroke-width="1.8" opacity="0.74"/>
<path d="M1873.5,422.6L1881.3,429.3" stroke="#552a12" stroke-width="1.7" opacity="0.60"/>
<path d="M1906.5,497.9L1893.1,500.3" stroke="#9b5a2c" stroke-width="1.2" opacity="0.77"/>
<path d="M1832.3,471.1L1831.3,484.8" stroke="#e0c6a0" stroke-width="2.1" opacity="0.91"/>
<path d="M1767.7,427.5L1791.2,441.4" stroke="#552a12" stroke-width="2.1" opacity="0.85"/>
<path d="M1812.1,486.5L1818.8,497.8" stroke="#e0c6a0" stroke-width="2.1" opacity="0.94"/>
<path d="M1891.5,429.3L1893.2,448.6" stroke="#9b5a2c" stroke-width="2.0" opacity="0.72"/>
<path d="M1871.3,439.1L1878.4,449.4" stroke="#c9996a" stroke-width="1.6" opacity="0.78"/>
<path d="M1782.3,357.4L1802.3,364.8" stroke="#7a3e1a" stroke-width="1.3" opacity="0.61"/>
<path d="M1777.1,353.6L1764.8,371.3" stroke="#b06a35" stroke-width="1.8" opacity="0.58"/>
<path d="M1865.5,405.3L1844.1,419.1" stroke="#e0c6a0" stroke-width="0.9" opacity="0.90"/>
<path d="M1897.4,500.0L1909.1,504.1" stroke="#b06a35" stroke-width="0.8" opacity="0.93"/>
<path d="M1891.2,469.3L1914.3,475.8" stroke="#e0c6a0" stroke-width="1.2" opacity="0.59"/>
<path d="M1775.4,468.7L1787.2,477.6" stroke="#8b4b25" stroke-width="1.2" opacity="0.69"/>
<path d="M1915.6,354.1L1895.6,372.9" stroke="#c9996a" stroke-width="1.5" opacity="0.89"/>
<path d="M1856.7,352.5L1861.3,369.1" stroke="#b06a35" stroke-width="1.3" opacity="0.83"/>
<path d="M1851.5,387.4L1842.5,391.6" stroke="#c48a55" stroke-width="1.0" opacity="0.55"/>
<path d="M1800.9,473.6L1792.8,474.2" stroke="#a9673a" stroke-width="0.9" opacity="0.83"/>
<path d="M1894.0,492.0L1885.8,519.2" stroke="#d2a878" stroke-width="1.2" opacity="0.93"/>
<path d="M1814.5,381.7L1803.6,396.8" stroke="#b06a35" stroke-width="2.1" opacity="0.86"/>
<path d="M1840.9,504.3L1838.9,514.3" stroke="#3b2411" stroke-width="1.3" opacity="0.71"/>
<path d="M1812.6,490.1L1838.6,497.3" stroke="#9b5a2c" stroke-width="1.3" opacity="0.67"/>
<path d="M1818.2,432.9L1843.0,447.7" stroke="#e0c6a0" stroke-width="1.1" opacity="0.73"/>
<path d="M1853.8,465.1L1838.3,480.3" stroke="#3b2411" stroke-width="1.6" opacity="0.76"/>
<path d="M1897.5,418.3L1895.0,433.0" stroke="#a9673a" stroke-width="1.4" opacity="0.86"/>
<path d="M1851.6,362.2L1854.8,388.8" stroke="#552a12" stroke-width="1.5" opacity="0.66"/>
<path d="M1883.6,472.9L1875.2,494.8" stroke="#552a12" stroke-width="1.8" opacity="0.79"/>
<path d="M1825.4,391.6L1812.0,393.5" stroke="#b06a35" stroke-width="1.0" opacity="0.81"/>
<path d="M1789.4,376.1L1802.3,382.6" stroke="#c48a55" stroke-width="1.4" opacity="0.63"/>
<path d="M1855.4,367.6L1868.4,377.4" stroke="#9b5a2c" stroke-width="0.8" opacity="0.89"/>
<path d="M1839.0,390.0L1824.7,390.8" stroke="#9b5a2c" stroke-width="1.0" opacity="0.79"/>
<path d="M1835.3,468.2L1818.9,473.0" stroke="#c9996a" stroke-width="1.6" opacity="0.81"/>
<path d="M1899.2,447.4L1886.8,471.2" stroke="#e0c6a0" stroke-width="1.8" opacity="0.89"/>
<path d="M1867.1,448.0L1869.2,462.5" stroke="#e0c6a0" stroke-width="1.8" opacity="0.91"/>
<path d="M1806.4,413.4L1799.4,422.3" stroke="#8b4b25" stroke-width="1.5" opacity="0.56"/>
<path d="M1901.3,424.5L1888.4,447.8" stroke="#e0c6a0" stroke-width="1.3" opacity="0.55"/>
<path d="M1884.6,494.3L1897.2,498.7" stroke="#552a12" stroke-width="1.0" opacity="0.86"/>
<path d="M1897.5,433.1L1916.7,439.5" stroke="#d2a878" stroke-width="1.1" opacity="0.74"/>
<path d="M1766.0,471.6L1772.1,485.6" stroke="#a9673a" stroke-width="1.1" opacity="0.82"/>
<path d="M1811.8,468.5L1838.7,479.4" stroke="#3b2411" stroke-width="1.7" opacity="0.65"/>
<path d="M1810.3,362.3L1837.1,368.7" stroke="#e0c6a0" stroke-width="1.8" opacity="0.69"/>
<path d="M1815.9,380.5L1796.6,400.9" stroke="#d2a878" stroke-width="2.2" opacity="0.95"/>
<path d="M1898.1,420.6L1922.2,434.4" stroke="#b06a35" stroke-width="1.9" opacity="0.80"/>
<path d="M1825.9,433.6L1847.6,452.2" stroke="#3b2411" stroke-width="1.7" opacity="0.88"/>
<path d="M1897.5,419.8L1873.3,420.1" stroke="#e0c6a0" stroke-width="1.0" opacity="0.88"/>
<path d="M1814.3,481.6L1825.0,493.5" stroke="#c48a55" stroke-width="2.2" opacity="0.82"/>
<path d="M1844.9,476.0L1832.3,485.2" stroke="#e0c6a0" stroke-width="1.2" opacity="0.74"/>
<path d="M1834.4,447.7L1826.9,461.5" stroke="#c48a55" stroke-width="2.0" opacity="0.57"/>
<path d="M1894.6,492.6L1886.0,499.5" stroke="#3b2411" stroke-width="1.7" opacity="0.56"/>
<path d="M1771.5,497.3L1765.2,509.1" stroke="#b06a35" stroke-width="1.6" opacity="0.89"/>
<path d="M1799.2,422.0L1789.5,429.8" stroke="#8b4b25" stroke-width="1.9" opacity="0.62"/>
<path d="M1908.3,443.0L1891.1,457.2" stroke="#d2a878" stroke-width="1.9" opacity="0.89"/>
<path d="M1797.3,451.3L1795.0,475.0" stroke="#a9673a" stroke-width="1.7" opacity="0.60"/>
<path d="M1792.1,416.1L1776.6,425.5" stroke="#d2a878" stroke-width="0.9" opacity="0.74"/>
<path d="M1788.2,422.2L1788.3,441.8" stroke="#9b5a2c" stroke-width="1.0" opacity="0.68"/>
<path d="M1865.2,425.8L1875.9,440.2" stroke="#8b4b25" stroke-width="1.4" opacity="0.93"/>
<path d="M1779.7,450.6L1776.1,458.4" stroke="#c9996a" stroke-width="0.9" opacity="0.84"/>
<path d="M1907.1,478.4L1924.6,483.7" stroke="#7a3e1a" stroke-width="0.8" opacity="0.84"/>
<path d="M1867.2,405.0L1852.9,411.7" stroke="#a9673a" stroke-width="1.9" opacity="0.77"/>
<path d="M1899.7,394.1L1906.1,405.8" stroke="#9b5a2c" stroke-width="2.0" opacity="0.67"/>
<path d="M1890.4,411.5L1890.2,425.3" stroke="#d2a878" stroke-width="1.3" opacity="0.63"/>
<path d="M1830.6,367.6L1849.7,380.8" stroke="#7a3e1a" stroke-width="1.6" opacity="0.80"/>
<path d="M1892.4,351.9L1875.1,372.5" stroke="#d2a878" stroke-width="1.6" opacity="0.71"/>
<path d="M1790.6,358.4L1775.2,368.0" stroke="#e0c6a0" stroke-width="0.9" opacity="0.75"/>
<path d="M1837.8,409.2L1857.9,419.1" stroke="#c9996a" stroke-width="2.0" opacity="0.58"/>
<path d="M1774.8,448.6L1770.3,459.4" stroke="#e0c6a0" stroke-width="1.1" opacity="0.56"/>
<path d="M1886.1,490.4L1878.6,504.4" stroke="#7a3e1a" stroke-width="1.9" opacity="0.77"/>
<path d="M1803.4,395.5L1807.0,409.9" stroke="#8b4b25" stroke-width="1.6" opacity="0.78"/>
<path d="M1904.0,420.2L1902.2,445.8" stroke="#8b4b25" stroke-width="1.6" opacity="0.92"/>
<path d="M1829.8,348.5L1836.9,367.9" stroke="#e0c6a0" stroke-width="2.2" opacity="0.74"/>
<path d="M1831.0,366.2L1825.5,377.4" stroke="#7a3e1a" stroke-width="1.7" opacity="0.72"/>
<path d="M1781.2,459.0L1754.9,460.1" stroke="#552a12" stroke-width="2.0" opacity="0.60"/>
<path d="M1760.8,459.1L1777.9,475.4" stroke="#7a3e1a" stroke-width="2.1" opacity="0.70"/>
<path d="M1867.4,458.2L1889.1,468.8" stroke="#c48a55" stroke-width="1.7" opacity="0.83"/>
<path d="M1825.5,490.0L1845.4,510.4" stroke="#9b5a2c" stroke-width="0.8" opacity="0.56"/>
<path d="M1856.7,480.6L1870.9,484.2" stroke="#c9996a" stroke-width="1.0" opacity="0.89"/>
<path d="M1835.2,356.0L1843.4,374.5" stroke="#a9673a" stroke-width="1.5" opacity="0.62"/>
<path d="M1916.7,373.2L1905.3,374.9" stroke="#8b4b25" stroke-width="1.5" opacity="0.86"/>
<path d="M1839.7,392.8L1828.9,403.3" stroke="#c48a55" stroke-width="0.9" opacity="0.94"/>
<path d="M1866.4,474.9L1877.0,493.0" stroke="#9b5a2c" stroke-width="2.0" opacity="0.79"/>
<path d="M1820.3,419.5L1805.2,425.0" stroke="#e0c6a0" stroke-width="1.3" opacity="0.86"/>
<path d="M1805.8,419.6L1797.5,432.0" stroke="#c48a55" stroke-width="1.4" opacity="0.78"/>
<path d="M1875.7,491.5L1901.3,495.0" stroke="#c9996a" stroke-width="1.0" opacity="0.94"/>
<path d="M1892.9,434.7L1878.6,446.7" stroke="#d2a878" stroke-width="0.9" opacity="0.77"/>
<path d="M1895.6,377.1L1875.9,396.9" stroke="#552a12" stroke-width="1.2" opacity="0.57"/>
<path d="M1835.7,463.2L1815.7,467.9" stroke="#9b5a2c" stroke-width="1.9" opacity="0.73"/>
<path d="M1784.7,476.5L1774.9,485.0" stroke="#c9996a" stroke-width="1.5" opacity="0.65"/>
<path d="M1891.2,399.5L1891.0,411.8" stroke="#552a12" stroke-width="1.1" opacity="0.62"/>
<path d="M1873.0,404.0L1869.7,420.2" stroke="#d2a878" stroke-width="2.0" opacity="0.65"/>
<path d="M1911.7,429.0L1897.2,435.5" stroke="#a9673a" stroke-width="1.9" opacity="0.61"/>
<path d="M1856.1,405.1L1855.6,413.6" stroke="#9b5a2c" stroke-width="1.1" opacity="0.90"/>
<path d="M1840.2,438.1L1862.0,455.4" stroke="#c48a55" stroke-width="1.4" opacity="0.93"/>
<path d="M1887.9,481.9L1874.6,483.4" stroke="#9b5a2c" stroke-width="1.3" opacity="0.95"/>
<path d="M1815.2,359.4L1831.0,361.1" stroke="#a9673a" stroke-width="1.5" opacity="0.89"/>
<path d="M1906.2,477.0L1894.4,502.0" stroke="#b06a35" stroke-width="1.2" opacity="0.78"/>
<path d="M1866.5,496.9L1858.2,511.0" stroke="#a9673a" stroke-width="2.0" opacity="0.70"/>
<path d="M1789.7,460.2L1813.8,474.7" stroke="#3b2411" stroke-width="0.9" opacity="0.77"/>
<path d="M1764.3,491.3L1777.3,505.0" stroke="#e0c6a0" stroke-width="1.9" opacity="0.74"/>
<path d="M1775.6,405.0L1787.9,405.2" stroke="#c48a55" stroke-width="1.6" opacity="0.73"/>
<path d="M1860.9,421.3L1867.3,436.3" stroke="#3b2411" stroke-width="1.5" opacity="0.62"/>
<path d="M1804.5,374.6L1800.1,381.6" stroke="#552a12" stroke-width="1.9" opacity="0.61"/>
<path d="M1893.9,360.6L1888.1,375.5" stroke="#7a3e1a" stroke-width="1.9" opacity="0.93"/>
<path d="M1900.1,415.2L1909.7,415.9" stroke="#3b2411" stroke-width="1.3" opacity="0.64"/>
<path d="M1778.0,402.4L1789.9,422.9" stroke="#7a3e1a" stroke-width="1.8" opacity="0.77"/>
<path d="M1782.7,484.4L1793.9,496.9" stroke="#7a3e1a" stroke-width="0.8" opacity="0.78"/>
<path d="M1807.4,476.6L1814.5,484.1" stroke="#a9673a" stroke-width="2.1" opacity="0.60"/>
<path d="M1923.3,361.2L1902.3,368.4" stroke="#552a12" stroke-width="1.6" opacity="0.88"/>
<path d="M1793.0,472.0L1775.9,473.5" stroke="#c48a55" stroke-width="2.2" opacity="0.92"/>
<path d="M1785.6,399.3L1776.9,402.2" stroke="#c48a55" stroke-width="1.0" opacity="0.81"/>
<path d="M1833.0,425.8L1832.4,443.3" stroke="#d2a878" stroke-width="1.2" opacity="0.69"/>
<path d="M1768.9,414.7L1776.5,423.8" stroke="#7a3e1a" stroke-width="1.5" opacity="0.64"/>
<path d="M1804.5,442.0L1781.3,455.8" stroke="#a9673a" stroke-width="1.9" opacity="0.62"/>
<path d="M1789.5,454.0L1784.8,465.2" stroke="#c48a55" stroke-width="1.1" opacity="0.58"/>
<path d="M1879.0,415.6L1873.1,422.6" stroke="#3b2411" stroke-width="1.3" opacity="0.89"/>
<path d="M1882.1,431.6L1909.5,432.9" stroke="#a9673a" stroke-width="1.0" opacity="0.82"/>
<path d="M1808.1,442.9L1799.4,443.3" stroke="#3b2411" stroke-width="1.6" opacity="0.89"/>
<path d="M1824.6,499.7L1815.1,500.6" stroke="#3b2411" stroke-width="1.8" opacity="0.88"/>
<path d="M1900.9,399.3L1890.9,412.0" stroke="#9b5a2c" stroke-width="1.2" opacity="0.59"/>
<path d="M1863.3,424.0L1888.4,426.1" stroke="#7a3e1a" stroke-width="0.8" opacity="0.94"/>
<path d="M1793.7,382.1L1806.4,386.3" stroke="#9b5a2c" stroke-width="0.8" opacity="0.92"/>
<path d="M1886.4,391.2L1867.6,401.7" stroke="#a9673a" stroke-width="1.5" opacity="0.83"/>
<path d="M1784.9,487.0L1779.2,494.0" stroke="#b06a35" stroke-width="1.5" opacity="0.78"/>
<path d="M1867.9,368.0L1892.9,378.0" stroke="#d2a878" stroke-width="1.6" opacity="0.89"/>
<path d="M1792.7,440.5L1784.6,448.7" stroke="#9b5a2c" stroke-width="2.1" opacity="0.71"/>
<path d="M1830.1,477.7L1828.8,494.1" stroke="#9b5a2c" stroke-width="1.9" opacity="0.69"/>
<path d="M1799.7,393.7L1805.5,422.0" stroke="#3b2411" stroke-width="1.9" opacity="0.89"/>
<path d="M1788.5,434.2L1760.8,437.9" stroke="#552a12" stroke-width="2.0" opacity="0.82"/>
<path d="M1762.2,368.7L1774.6,377.0" stroke="#552a12" stroke-width="1.5" opacity="0.56"/>
<path d="M1798.2,496.9L1776.8,515.0" stroke="#e0c6a0" stroke-width="0.9" opacity="0.94"/>
<path d="M1921.7,357.9L1902.3,366.6" stroke="#e0c6a0" stroke-width="1.7" opacity="0.80"/>
<path d="M1882.0,359.9L1892.1,363.2" stroke="#9b5a2c" stroke-width="1.4" opacity="0.93"/>
<path d="M1812.0,398.5L1807.2,408.0" stroke="#c9996a" stroke-width="2.1" opacity="0.92"/>
<path d="M1905.2,355.7L1897.4,382.4" stroke="#a9673a" stroke-width="1.0" opacity="0.60"/>
<ellipse cx="1812.7" cy="423.0" rx="1.8" ry="1.0" transform="rotate(16 1812.7 423.0)" fill="#e6d2b6" opacity="0.70"/>
<ellipse cx="1835.0" cy="463.0" rx="1.6" ry="1.2" transform="rotate(99 1835.0 463.0)" fill="#f3ece0" opacity="0.76"/>
<ellipse cx="1848.0" cy="451.6" rx="2.1" ry="1.1" transform="rotate(44 1848.0 451.6)" fill="#d8c7a8" opacity="0.67"/>
<ellipse cx="1847.7" cy="501.1" rx="2.0" ry="1.7" transform="rotate(29 1847.7 501.1)" fill="#d8c7a8" opacity="0.71"/>
<ellipse cx="1817.1" cy="404.1" rx="3.0" ry="1.0" transform="rotate(10 1817.1 404.1)" fill="#e9dcc6" opacity="0.66"/>
<ellipse cx="1781.3" cy="487.5" rx="2.1" ry="0.9" transform="rotate(70 1781.3 487.5)" fill="#cbb38d" opacity="0.72"/>
<ellipse cx="1877.8" cy="438.9" rx="3.2" ry="1.5" transform="rotate(168 1877.8 438.9)" fill="#cbb38d" opacity="0.72"/>
<ellipse cx="1820.9" cy="460.3" rx="2.4" ry="1.6" transform="rotate(148 1820.9 460.3)" fill="#e6d2b6" opacity="0.63"/>
<ellipse cx="1890.7" cy="494.5" rx="3.2" ry="1.1" transform="rotate(114 1890.7 494.5)" fill="#d8c7a8" opacity="0.74"/>
<ellipse cx="1786.3" cy="423.6" rx="2.3" ry="0.9" transform="rotate(72 1786.3 423.6)" fill="#e6d2b6" opacity="0.65"/>
<ellipse cx="1889.9" cy="405.4" rx="2.4" ry="0.9" transform="rotate(153 1889.9 405.4)" fill="#cbb38d" opacity="0.70"/>
<ellipse cx="1820.9" cy="415.6" rx="2.3" ry="1.4" transform="rotate(117 1820.9 415.6)" fill="#e9dcc6" opacity="0.88"/>
<ellipse cx="1889.8" cy="435.9" rx="2.1" ry="1.0" transform="rotate(55 1889.8 435.9)" fill="#d8c7a8" opacity="0.75"/>
<ellipse cx="1824.3" cy="398.8" rx="2.8" ry="1.1" transform="rotate(174 1824.3 398.8)" fill="#e6d2b6" opacity="0.89"/>
<ellipse cx="1904.9" cy="395.0" rx="2.1" ry="1.7" transform="rotate(2 1904.9 395.0)" fill="#e9dcc6" opacity="0.69"/>
<ellipse cx="1896.2" cy="408.2" rx="2.3" ry="1.1" transform="rotate(112 1896.2 408.2)" fill="#cbb38d" opacity="0.78"/>
<ellipse cx="1843.7" cy="461.7" rx="2.0" ry="1.2" transform="rotate(107 1843.7 461.7)" fill="#f3ece0" opacity="0.76"/>
<ellipse cx="1773.4" cy="376.1" rx="1.7" ry="1.2" transform="rotate(90 1773.4 376.1)" fill="#e6d2b6" opacity="0.92"/>
<ellipse cx="1793.4" cy="392.8" rx="2.0" ry="1.2" transform="rotate(138 1793.4 392.8)" fill="#e6d2b6" opacity="0.72"/>
<ellipse cx="1845.5" cy="479.8" rx="1.5" ry="1.1" transform="rotate(176 1845.5 479.8)" fill="#f3ece0" opacity="0.78"/>
<ellipse cx="1787.3" cy="490.7" rx="2.6" ry="1.6" transform="rotate(178 1787.3 490.7)" fill="#cbb38d" opacity="0.82"/>
<ellipse cx="1844.7" cy="479.8" rx="1.6" ry="1.7" transform="rotate(74 1844.7 479.8)" fill="#e9dcc6" opacity="0.82"/>
<ellipse cx="1855.6" cy="415.6" rx="3.2" ry="1.4" transform="rotate(8 1855.6 415.6)" fill="#cbb38d" opacity="0.60"/>
<ellipse cx="1772.4" cy="465.2" rx="2.3" ry="1.7" transform="rotate(72 1772.4 465.2)" fill="#e9dcc6" opacity="0.81"/>
<ellipse cx="1864.6" cy="393.9" rx="2.2" ry="1.4" transform="rotate(48 1864.6 393.9)" fill="#e6d2b6" opacity="0.78"/>
<ellipse cx="1791.9" cy="394.2" rx="2.4" ry="0.9" transform="rotate(93 1791.9 394.2)" fill="#e6d2b6" opacity="0.64"/>
<ellipse cx="1785.9" cy="390.3" rx="2.2" ry="1.6" transform="rotate(110 1785.9 390.3)" fill="#e9dcc6" opacity="0.83"/>
<ellipse cx="1866.9" cy="446.9" rx="1.5" ry="1.0" transform="rotate(50 1866.9 446.9)" fill="#e9dcc6" opacity="0.69"/>
<ellipse cx="1785.8" cy="492.0" rx="2.4" ry="1.1" transform="rotate(81 1785.8 492.0)" fill="#cbb38d" opacity="0.61"/>
<ellipse cx="1802.5" cy="421.6" rx="2.7" ry="0.8" transform="rotate(10 1802.5 421.6)" fill="#d8c7a8" opacity="0.69"/>
<ellipse cx="1778.1" cy="495.7" rx="2.9" ry="1.1" transform="rotate(162 1778.1 495.7)" fill="#cbb38d" opacity="0.71"/>
<ellipse cx="1855.6" cy="499.8" rx="2.2" ry="1.7" transform="rotate(44 1855.6 499.8)" fill="#cbb38d" opacity="0.84"/>
<ellipse cx="1853.1" cy="424.0" rx="2.0" ry="1.5" transform="rotate(4 1853.1 424.0)" fill="#d8c7a8" opacity="0.63"/>
<ellipse cx="1795.6" cy="419.2" rx="1.2" ry="1.7" transform="rotate(71 1795.6 419.2)" fill="#f3ece0" opacity="0.64"/>
<ellipse cx="1846.0" cy="420.1" rx="2.0" ry="0.9" transform="rotate(22 1846.0 420.1)" fill="#f3ece0" opacity="0.79"/>
<ellipse cx="1825.7" cy="431.4" rx="1.9" ry="1.2" transform="rotate(50 1825.7 431.4)" fill="#e9dcc6" opacity="0.72"/>
<ellipse cx="1793.6" cy="464.5" rx="1.4" ry="1.1" transform="rotate(150 1793.6 464.5)" fill="#d8c7a8" opacity="0.79"/>
<ellipse cx="1836.8" cy="476.9" rx="1.7" ry="1.2" transform="rotate(39 1836.8 476.9)" fill="#cbb38d" opacity="0.73"/>
<ellipse cx="1904.9" cy="395.5" rx="3.1" ry="1.3" transform="rotate(41 1904.9 395.5)" fill="#cbb38d" opacity="0.84"/>
<ellipse cx="1902.6" cy="505.0" rx="2.4" ry="1.2" transform="rotate(178 1902.6 505.0)" fill="#e6d2b6" opacity="0.69"/>
<ellipse cx="1856.3" cy="396.1" rx="2.9" ry="0.9" transform="rotate(92 1856.3 396.1)" fill="#e6d2b6" opacity="0.90"/>
<ellipse cx="1874.1" cy="472.7" rx="1.3" ry="1.5" transform="rotate(26 1874.1 472.7)" fill="#e9dcc6" opacity="0.74"/>
<ellipse cx="1783.9" cy="391.2" rx="2.9" ry="1.1" transform="rotate(119 1783.9 391.2)" fill="#e9dcc6" opacity="0.62"/>
<ellipse cx="1898.7" cy="478.3" rx="2.7" ry="1.0" transform="rotate(129 1898.7 478.3)" fill="#e9dcc6" opacity="0.68"/>
<ellipse cx="1789.5" cy="466.0" rx="1.8" ry="1.2" transform="rotate(164 1789.5 466.0)" fill="#d8c7a8" opacity="0.93"/>
<ellipse cx="1796.5" cy="417.5" rx="2.8" ry="1.5" transform="rotate(161 1796.5 417.5)" fill="#e9dcc6" opacity="0.83"/>
<ellipse cx="1869.0" cy="401.1" rx="2.9" ry="1.2" transform="rotate(113 1869.0 401.1)" fill="#d8c7a8" opacity="0.70"/>
<ellipse cx="1809.6" cy="451.1" rx="1.6" ry="1.5" transform="rotate(73 1809.6 451.1)" fill="#e6d2b6" opacity="0.66"/>
<ellipse cx="1799.5" cy="408.7" rx="2.0" ry="0.8" transform="rotate(56 1799.5 408.7)" fill="#d8c7a8" opacity="0.80"/>
<ellipse cx="1803.6" cy="435.7" rx="2.2" ry="1.7" transform="rotate(121 1803.6 435.7)" fill="#e6d2b6" opacity="0.72"/>
<ellipse cx="1772.1" cy="482.4" rx="2.8" ry="1.1" transform="rotate(8 1772.1 482.4)" fill="#e6d2b6" opacity="0.81"/>
<ellipse cx="1778.6" cy="400.6" rx="1.4" ry="1.6" transform="rotate(38 1778.6 400.6)" fill="#f3ece0" opacity="0.86"/>
<ellipse cx="1783.9" cy="463.0" rx="2.0" ry="1.5" transform="rotate(149 1783.9 463.0)" fill="#f3ece0" opacity="0.78"/>
<ellipse cx="1820.4" cy="498.3" rx="2.1" ry="1.1" transform="rotate(91 1820.4 498.3)" fill="#cbb38d" opacity="0.78"/>
<ellipse cx="1865.8" cy="395.2" rx="2.5" ry="1.6" transform="rotate(140 1865.8 395.2)" fill="#cbb38d" opacity="0.87"/>
<ellipse cx="1778.1" cy="464.1" rx="2.8" ry="1.1" transform="rotate(98 1778.1 464.1)" fill="#d8c7a8" opacity="0.79"/>
<ellipse cx="1806.6" cy="374.9" rx="1.9" ry="1.2" transform="rotate(36 1806.6 374.9)" fill="#f3ece0" opacity="0.65"/>
<ellipse cx="1867.2" cy="434.1" rx="2.2" ry="1.5" transform="rotate(1 1867.2 434.1)" fill="#cbb38d" opacity="0.65"/>
<ellipse cx="1860.9" cy="463.5" rx="1.5" ry="1.5" transform="rotate(106 1860.9 463.5)" fill="#d8c7a8" opacity="0.72"/>
<ellipse cx="1885.1" cy="442.7" rx="2.7" ry="1.0" transform="rotate(120 1885.1 442.7)" fill="#e6d2b6" opacity="0.94"/>
<ellipse cx="1888.4" cy="423.0" rx="1.6" ry="1.5" transform="rotate(2 1888.4 423.0)" fill="#cbb38d" opacity="0.67"/>
<ellipse cx="1780.4" cy="405.6" rx="1.6" ry="1.5" transform="rotate(81 1780.4 405.6)" fill="#e9dcc6" opacity="0.66"/>
<ellipse cx="1833.7" cy="445.6" rx="1.8" ry="1.4" transform="rotate(8 1833.7 445.6)" fill="#cbb38d" opacity="0.95"/>
<ellipse cx="1876.1" cy="378.3" rx="2.6" ry="1.8" transform="rotate(101 1876.1 378.3)" fill="#e9dcc6" opacity="0.83"/>
<ellipse cx="1904.7" cy="434.4" rx="2.8" ry="1.1" transform="rotate(65 1904.7 434.4)" fill="#e9dcc6" opacity="0.83"/>
<ellipse cx="1859.0" cy="496.4" rx="2.5" ry="1.1" transform="rotate(44 1859.0 496.4)" fill="#d8c7a8" opacity="0.86"/>
<ellipse cx="1775.5" cy="421.5" rx="1.5" ry="1.2" transform="rotate(173 1775.5 421.5)" fill="#e6d2b6" opacity="0.90"/>
<ellipse cx="1900.5" cy="390.0" rx="2.8" ry="1.6" transform="rotate(134 1900.5 390.0)" fill="#f3ece0" opacity="0.73"/>
<ellipse cx="1861.8" cy="416.1" rx="1.7" ry="0.9" transform="rotate(166 1861.8 416.1)" fill="#f3ece0" opacity="0.68"/>
<ellipse cx="1777.7" cy="445.3" rx="2.5" ry="1.6" transform="rotate(127 1777.7 445.3)" fill="#e9dcc6" opacity="0.93"/>
<ellipse cx="1840.6" cy="435.9" rx="1.5" ry="1.1" transform="rotate(105 1840.6 435.9)" fill="#e9dcc6" opacity="0.65"/>
<ellipse cx="1803.5" cy="385.8" rx="2.5" ry="1.2" transform="rotate(176 1803.5 385.8)" fill="#cbb38d" opacity="0.77"/>
<ellipse cx="1802.3" cy="418.3" rx="1.3" ry="1.4" transform="rotate(150 1802.3 418.3)" fill="#e6d2b6" opacity="0.75"/>
<ellipse cx="1811.3" cy="458.4" rx="2.2" ry="1.2" transform="rotate(61 1811.3 458.4)" fill="#cbb38d" opacity="0.60"/>
<ellipse cx="1904.6" cy="391.1" rx="2.6" ry="1.2" transform="rotate(1 1904.6 391.1)" fill="#e6d2b6" opacity="0.84"/>
<ellipse cx="1850.7" cy="431.7" rx="2.3" ry="1.3" transform="rotate(77 1850.7 431.7)" fill="#e6d2b6" opacity="0.92"/>
<ellipse cx="1892.0" cy="501.8" rx="3.1" ry="1.4" transform="rotate(146 1892.0 501.8)" fill="#e9dcc6" opacity="0.85"/>
<ellipse cx="1818.0" cy="458.0" rx="2.3" ry="1.2" transform="rotate(66 1818.0 458.0)" fill="#d8c7a8" opacity="0.70"/>
<ellipse cx="1819.6" cy="489.4" rx="1.3" ry="1.0" transform="rotate(122 1819.6 489.4)" fill="#cbb38d" opacity="0.84"/>
<ellipse cx="1792.4" cy="447.0" rx="2.3" ry="1.7" transform="rotate(65 1792.4 447.0)" fill="#d8c7a8" opacity="0.80"/>
<ellipse cx="1827.0" cy="382.5" rx="1.6" ry="1.7" transform="rotate(99 1827.0 382.5)" fill="#e9dcc6" opacity="0.68"/>
<ellipse cx="1888.1" cy="456.8" rx="1.6" ry="1.5" transform="rotate(128 1888.1 456.8)" fill="#d8c7a8" opacity="0.79"/>
<ellipse cx="1803.4" cy="446.1" rx="1.4" ry="1.3" transform="rotate(106 1803.4 446.1)" fill="#e9dcc6" opacity="0.90"/>
<ellipse cx="1866.2" cy="477.6" rx="1.5" ry="1.3" transform="rotate(91 1866.2 477.6)" fill="#e9dcc6" opacity="0.82"/>
<ellipse cx="1905.2" cy="438.1" rx="2.1" ry="1.5" transform="rotate(98 1905.2 438.1)" fill="#d8c7a8" opacity="0.80"/>
<ellipse cx="1879.5" cy="385.6" rx="2.8" ry="0.9" transform="rotate(43 1879.5 385.6)" fill="#f3ece0" opacity="0.61"/>
<ellipse cx="1869.3" cy="499.2" rx="2.1" ry="0.9" transform="rotate(24 1869.3 499.2)" fill="#e9dcc6" opacity="0.82"/>
<ellipse cx="1892.9" cy="444.7" rx="3.0" ry="1.7" transform="rotate(30 1892.9 444.7)" fill="#f3ece0" opacity="0.88"/>
<ellipse cx="1874.1" cy="368.3" rx="1.7" ry="1.0" transform="rotate(92 1874.1 368.3)" fill="#e6d2b6" opacity="0.93"/>
<ellipse cx="1872.1" cy="372.7" rx="2.4" ry="0.9" transform="rotate(99 1872.1 372.7)" fill="#e6d2b6" opacity="0.64"/>
<ellipse cx="1900.3" cy="460.3" rx="1.7" ry="1.0" transform="rotate(80 1900.3 460.3)" fill="#e6d2b6" opacity="0.75"/>
<ellipse cx="1881.7" cy="434.3" rx="1.3" ry="1.1" transform="rotate(27 1881.7 434.3)" fill="#f3ece0" opacity="0.91"/>
<ellipse cx="1864.8" cy="482.6" rx="2.4" ry="1.1" transform="rotate(180 1864.8 482.6)" fill="#f3ece0" opacity="0.93"/>
<ellipse cx="1773.9" cy="414.1" rx="1.5" ry="1.3" transform="rotate(157 1773.9 414.1)" fill="#e9dcc6" opacity="0.63"/>
<ellipse cx="1858.0" cy="456.1" rx="2.4" ry="1.6" transform="rotate(174 1858.0 456.1)" fill="#cbb38d" opacity="0.74"/>
<ellipse cx="1893.1" cy="451.4" rx="1.4" ry="1.1" transform="rotate(39 1893.1 451.4)" fill="#d8c7a8" opacity="0.81"/>
<ellipse cx="1778.1" cy="390.2" rx="1.9" ry="1.3" transform="rotate(104 1778.1 390.2)" fill="#cbb38d" opacity="0.93"/>
<ellipse cx="1815.6" cy="413.2" rx="2.2" ry="1.0" transform="rotate(45 1815.6 413.2)" fill="#e6d2b6" opacity="0.62"/>
<ellipse cx="1792.2" cy="459.7" rx="1.7" ry="1.1" transform="rotate(90 1792.2 459.7)" fill="#f3ece0" opacity="0.72"/>
<ellipse cx="1851.5" cy="447.7" rx="1.5" ry="1.5" transform="rotate(165 1851.5 447.7)" fill="#e9dcc6" opacity="0.91"/>
<ellipse cx="1879.4" cy="454.5" rx="2.5" ry="1.2" transform="rotate(51 1879.4 454.5)" fill="#d8c7a8" opacity="0.91"/>
<ellipse cx="1902.2" cy="461.1" rx="1.8" ry="1.6" transform="rotate(133 1902.2 461.1)" fill="#e6d2b6" opacity="0.90"/>
<ellipse cx="1806.0" cy="487.7" rx="2.6" ry="1.1" transform="rotate(127 1806.0 487.7)" fill="#f3ece0" opacity="0.91"/>
<ellipse cx="1880.5" cy="436.5" rx="3.0" ry="1.6" transform="rotate(179 1880.5 436.5)" fill="#d8c7a8" opacity="0.65"/>
<ellipse cx="1773.0" cy="487.4" rx="2.1" ry="1.2" transform="rotate(102 1773.0 487.4)" fill="#f3ece0" opacity="0.93"/>
<ellipse cx="1853.4" cy="386.6" rx="2.6" ry="1.1" transform="rotate(103 1853.4 386.6)" fill="#f3ece0" opacity="0.63"/>
<ellipse cx="1798.4" cy="494.9" rx="2.4" ry="1.1" transform="rotate(64 1798.4 494.9)" fill="#cbb38d" opacity="0.72"/>
<ellipse cx="1879.4" cy="426.1" rx="2.9" ry="0.9" transform="rotate(87 1879.4 426.1)" fill="#d8c7a8" opacity="0.70"/>
<ellipse cx="1807.7" cy="369.9" rx="1.5" ry="1.1" transform="rotate(127 1807.7 369.9)" fill="#d8c7a8" opacity="0.62"/>
<ellipse cx="1834.1" cy="490.5" rx="1.8" ry="1.3" transform="rotate(18 1834.1 490.5)" fill="#d8c7a8" opacity="0.86"/>
<ellipse cx="1798.7" cy="436.0" rx="6.5" ry="2" transform="rotate(60 1798.7 436.0)" fill="#cfc79a" stroke="#8c8556" stroke-width=".4"/>
<ellipse cx="1809.3" cy="444.0" rx="6.5" ry="2" transform="rotate(100 1809.3 444.0)" fill="#cfc79a" stroke="#8c8556" stroke-width=".4"/>
<ellipse cx="1820.0" cy="444.0" rx="6.5" ry="2" transform="rotate(80 1820.0 444.0)" fill="#cfc79a" stroke="#8c8556" stroke-width=".4"/>
<ellipse cx="1785.3" cy="454.7" rx="6.5" ry="2" transform="rotate(110 1785.3 454.7)" fill="#cfc79a" stroke="#8c8556" stroke-width=".4"/>
<ellipse cx="1793.3" cy="468.0" rx="6.5" ry="2" transform="rotate(120 1793.3 468.0)" fill="#cfc79a" stroke="#8c8556" stroke-width=".4"/>
<ellipse cx="1849.3" cy="404.0" rx="6.5" ry="2" transform="rotate(40 1849.3 404.0)" fill="#cfc79a" stroke="#8c8556" stroke-width=".4"/>
<ellipse cx="1852.0" cy="417.3" rx="6.5" ry="2" transform="rotate(160 1852.0 417.3)" fill="#cfc79a" stroke="#8c8556" stroke-width=".4"/>
<ellipse cx="1822.7" cy="396.0" rx="6.5" ry="2" transform="rotate(120 1822.7 396.0)" fill="#cfc79a" stroke="#8c8556" stroke-width=".4"/>
<ellipse cx="1833.3" cy="470.7" rx="6.5" ry="2" transform="rotate(150 1833.3 470.7)" fill="#cfc79a" stroke="#8c8556" stroke-width=".4"/>
<ellipse cx="1780.0" cy="417.3" rx="6.5" ry="2" transform="rotate(170 1780.0 417.3)" fill="#cfc79a" stroke="#8c8556" stroke-width=".4"/>
<ellipse cx="1833.3" cy="360.8" rx="5.0" ry="4.0" transform="rotate(0 1833.3 360.8)" fill="#efe9d8"/>
<ellipse cx="1798.7" cy="400.0" rx="4.5" ry="3.8" transform="rotate(0 1798.7 400.0)" fill="#f4efe4"/>
<ellipse cx="1878.7" cy="406.7" rx="9.0" ry="6.0" transform="rotate(-25 1878.7 406.7)" fill="#efe4cf"/>
<ellipse cx="1870.7" cy="408.0" rx="5.0" ry="4.5" transform="rotate(0 1870.7 408.0)" fill="#f3ead9"/>
<ellipse cx="1866.7" cy="432.5" rx="5.5" ry="4.0" transform="rotate(0 1866.7 432.5)" fill="#f1ebdd"/>
<ellipse cx="1886.7" cy="417.3" rx="5.0" ry="4.0" transform="rotate(0 1886.7 417.3)" fill="#eadfc8"/>
<ellipse cx="1810.7" cy="367.5" rx="8.5" ry="5.5" transform="rotate(-25 1810.7 367.5)" fill="#f0dc2c"/>
<ellipse cx="1829.3" cy="402.7" rx="8.0" ry="5.0" transform="rotate(-25 1829.3 402.7)" fill="#e8791f"/>
<ellipse cx="1813.3" cy="430.7" rx="5.0" ry="5.0" transform="rotate(0 1813.3 430.7)" fill="#c2173d"/>
<ellipse cx="1834.7" cy="445.3" rx="5.5" ry="5.0" transform="rotate(0 1834.7 445.3)" fill="#c71c45"/>
<ellipse cx="1789.3" cy="420.5" rx="3.5" ry="4.0" transform="rotate(0 1789.3 420.5)" fill="#c8204a"/>
<ellipse cx="1849.9" cy="364.0" rx="3.0" ry="3.5" transform="rotate(0 1849.9 364.0)" fill="#e23b2a"/>
<ellipse cx="1857.9" cy="363.5" rx="3.0" ry="3.0" transform="rotate(0 1857.9 363.5)" fill="#e0452f"/>
<ellipse cx="1870.1" cy="465.3" rx="10.5" ry="7.5" transform="rotate(-25 1870.1 465.3)" fill="#83d23a"/>
<ellipse cx="1849.9" cy="465.3" rx="8.0" ry="6.0" transform="rotate(-25 1849.9 465.3)" fill="#7fce38"/>
<ellipse cx="1862.7" cy="484.0" rx="12.0" ry="6.5" transform="rotate(-25 1862.7 484.0)" fill="#79cc36"/>
<ellipse cx="1806.7" cy="475.2" rx="5.0" ry="3.5" transform="rotate(0 1806.7 475.2)" fill="#8bd040"/>
<ellipse cx="1782.1" cy="480.8" rx="5.0" ry="4.0" transform="rotate(0 1782.1 480.8)" fill="#a9c94a"/>
<ellipse cx="1824.8" cy="482.7" rx="7.0" ry="6.0" transform="rotate(0 1824.8 482.7)" fill="#f2d32a"/>
<ellipse cx="1789.3" cy="487.5" rx="5.5" ry="5.0" transform="rotate(0 1789.3 487.5)" fill="#f0d62e"/>
<ellipse cx="1853.3" cy="493.3" rx="5.0" ry="5.5" transform="rotate(0 1853.3 493.3)" fill="#e9cf2c"/>
<ellipse cx="1806.1" cy="494.1" rx="5.0" ry="7.0" transform="rotate(0 1806.1 494.1)" fill="#ee4a8d"/>
<ellipse cx="1825.3" cy="498.7" rx="3.5" ry="4.5" transform="rotate(0 1825.3 498.7)" fill="#e0303a"/>
<ellipse cx="1791.2" cy="461.6" rx="2.8" ry="2.8" transform="rotate(0 1791.2 461.6)" fill="#e8452c"/>
<ellipse cx="1882.7" cy="438.7" rx="3.0" ry="2.5" transform="rotate(0 1882.7 438.7)" fill="#ef5a9a"/>
<ellipse cx="1897.3" cy="434.7" rx="3.0" ry="3.0" transform="rotate(0 1897.3 434.7)" fill="#f08a2a"/>
<ellipse cx="1846.7" cy="498.7" rx="11.0" ry="8.0" transform="rotate(-25 1846.7 498.7)" fill="#8f6a55"/>
<ellipse cx="1886.7" cy="449.3" rx="12.0" ry="10.0" transform="rotate(-25 1886.7 449.3)" fill="#9a6248"/>
<ellipse cx="1849.3" cy="429.9" rx="10.0" ry="8.0" transform="rotate(-25 1849.3 429.9)" fill="#8a5532"/>
<ellipse cx="1828.0" cy="418.7" rx="9.0" ry="8.0" transform="rotate(-25 1828.0 418.7)" fill="#b98e78"/>
<path d="M1901.3,417.3C1902.7,415.1 1911.3,420.9 1913.3,425.3C1915.3,429.8 1914.7,441.8 1913.3,444.0C1912.0,446.2 1907.3,443.1 1905.3,438.7C1903.3,434.2 1900.0,419.6 1901.3,417.3Z" fill="#d6a52c" opacity=".75"/>
</g>
<path d="M1830.7,354.7C1832.0,356.8 1852.9,356.9 1862.7,361.3C1872.4,365.8 1881.6,373.3 1889.3,381.3C1897.1,389.3 1905.0,400.7 1909.3,409.3C1913.7,418.0 1913.7,431.1 1915.5,433.3C1917.2,435.6 1920.6,425.3 1920.0,422.7C1919.4,420.0 1915.3,421.8 1912.0,417.3C1908.7,412.9 1904.7,402.7 1900.0,396.0C1895.3,389.3 1889.3,383.1 1884.0,377.3C1878.7,371.6 1872.9,366.1 1868.0,361.3C1863.1,356.5 1860.9,349.6 1854.7,348.5C1848.4,347.4 1829.3,352.5 1830.7,354.7Z" fill="#356f22" opacity=".35"/>
<path d="M1878.7,326.7C1880.4,325.1 1884.5,323.7 1886.7,324.5C1888.8,325.3 1891.4,328.9 1891.5,331.5C1891.6,334.0 1888.2,337.5 1887.2,340.0C1886.2,342.5 1886.2,345.7 1885.3,346.7C1884.4,347.6 1882.5,347.2 1881.9,345.9C1881.2,344.5 1882.2,340.6 1881.3,338.7C1880.4,336.7 1877.0,336.1 1876.5,334.1C1876.1,332.1 1877.0,328.3 1878.7,326.7Z" fill="#7a5a3c"/>
<ellipse cx="1883.5" cy="329.9" rx="3" ry="2.6" fill="#9b7a55"/>
</g>
<g id="juice">
<ellipse cx="1708.9" cy="962.5" rx="22" ry="10" fill="#4d7f3b" opacity=".6" filter="url(#bl3)"/>
<ellipse cx="1609.4" cy="977.5" rx="60" ry="5" fill="#5a8a47" opacity=".5" filter="url(#bl3)"/>
<path d="M1632.3,736.9L1617.4,822.5" stroke="#efd79c" stroke-width="5.6" stroke-linecap="round"/>
<path d="M1633.5,736.9L1618.6,822.5" stroke="#f8e9bd" stroke-width="2" stroke-linecap="round"/>
<path d="M1562.1,822.5 C1563.4,794.6 1584.5,780.9 1613.1,780.4 C1641.7,780.9 1662.9,794.6 1664.1,822.5Z" fill="url(#dome)" opacity=".78"/>
<path d="M1562.1,822.5 C1563.4,794.6 1584.5,780.9 1613.1,780.4 C1641.7,780.9 1662.9,794.6 1664.1,822.5Z" fill="none" stroke="#f4f7f2" stroke-width="1" opacity=".8"/>
<path d="M1572.1,814.5C1570.8,810.8 1573.3,799.5 1577.1,794.6C1580.8,789.7 1589.1,786.9 1594.5,785.2C1599.9,783.4 1609.4,782.6 1609.4,784.2C1609.4,785.8 1598.6,789.2 1594.5,794.6C1590.3,800.1 1588.3,813.7 1584.5,817.0C1580.8,820.3 1573.3,818.3 1572.1,814.5Z" fill="#fff" opacity=".55"/>
<path d="M1639.3,794.6C1640.1,792.3 1646.5,798.4 1649.2,802.1C1651.9,805.8 1656.3,814.7 1655.4,817.0C1654.6,819.3 1646.9,819.5 1644.2,815.8C1641.5,812.0 1638.4,796.9 1639.3,794.6Z" fill="#fff" opacity=".4"/>
<ellipse cx="1613.1" cy="783.4" rx="20" ry="2.6" fill="#fff" opacity=".5"/>
<path d="M1624.3,782.2L1617.4,822.5" stroke="#ecd292" stroke-width="5" stroke-linecap="round" opacity=".75"/>
<path d="M1563.6,836.9 1662.6,836.9 1659.2,859.3 1652.9,919.0 1640.5,976.2 1578.3,976.7 1572.1,909.1 1567.1,859.3Z" fill="url(#juice)"/>
<path d="M1563.6,836.9 1662.6,836.9 1659.2,859.3 1652.9,919.0 1640.5,976.2 1578.3,976.7 1572.1,909.1 1567.1,859.3Z" fill="url(#juiceV)"/>
<path d="M1577.6,844.4 1597.0,844.4 1602.4,973.7 1589.5,975.0Z" fill="#f8d488" opacity=".6"/>
<path d="M1636.8,844.4 1651.7,844.4 1644.2,943.9 1636.8,943.9Z" fill="#f7d48c" opacity=".5"/>
<path d="M1606.9,849.4 1635.5,849.4 1634.3,963.8 1608.2,966.3Z" fill="#ea9320" opacity=".45"/>
<path d="M1563.6,836.9 1662.6,836.9 1661.1,848.1 1565.4,848.1Z" fill="#e9b765" opacity=".75"/>
<path d="M1565.4,854.3 1660.6,854.3 1660.1,858.3 1566.1,858.3Z" fill="#d48a22" opacity=".55"/>
<path d="M1577.6,968.8 1641.7,968.3 1640.5,976.2 1578.3,976.7Z" fill="#c9781a" opacity=".6"/>
<path d="M1555.7,829.5 Q1556.2,824.0 1562.6,823.0 Q1613.1,819.5 1663.6,823.0 Q1670.1,824.0 1670.6,829.5 L1669.1,834.9 Q1613.1,839.9 1557.2,834.9Z" fill="#dcd9d3"/>
<path d="M1562.1,823.0C1562.1,822.0 1596.1,820.5 1613.1,820.5C1630.1,820.5 1664.1,822.0 1664.1,823.0C1664.1,824.0 1630.1,826.5 1613.1,826.5C1596.1,826.5 1562.1,824.0 1562.1,823.0Z" fill="#eef0ea" opacity=".9"/>
<path d="M1556.2,832.4 Q1613.1,838.9 1669.6,831.9" fill="none" stroke="#a9a49a" stroke-width="1.2" stroke-dasharray="1.6 1.2" opacity=".9"/>
<text x="1613.9" y="911.0" font-family="'Liberation Serif',serif" font-style="italic" font-weight="700" font-size="11" fill="#1f2a5a" text-anchor="middle">Ice</text>
<text x="1611.4" y="926.0" font-family="'Liberation Serif',serif" font-style="italic" font-weight="700" font-size="11" fill="#1f2a5a" text-anchor="middle">Flame</text>
<path d="M1513.6,926.5C1513.6,919.4 1515.9,913.3 1519.9,909.1C1523.8,904.8 1531.5,901.9 1537.3,901.1C1543.1,900.3 1549.3,904.0 1554.7,904.1C1560.1,904.2 1566.1,899.1 1569.6,901.6C1573.1,904.1 1574.7,912.0 1575.8,919.0C1577.0,926.1 1577.6,936.0 1576.6,943.9C1575.5,951.8 1573.7,961.2 1569.6,966.3C1565.5,971.3 1558.0,973.8 1552.2,974.2C1546.4,974.6 1540.2,972.6 1534.8,968.8C1529.4,964.9 1523.4,958.4 1519.9,951.3C1516.3,944.3 1513.6,933.5 1513.6,926.5Z" fill="url(#appleL)"/>
<path d="M1516.1,933.9C1517.6,930.8 1522.8,929.0 1527.3,930.2C1531.9,931.4 1540.4,937.5 1543.5,941.4C1546.6,945.3 1547.0,949.7 1546.0,953.8C1544.9,958.0 1540.4,964.8 1537.3,966.3C1534.2,967.7 1530.4,965.4 1527.3,962.5C1524.2,959.6 1520.5,953.6 1518.6,948.9C1516.7,944.1 1514.7,937.0 1516.1,933.9Z" fill="#f0cf72" opacity=".92" filter="url(#bl1)"/>
<path d="M1538.5,901.1C1537.6,899.8 1546.0,896.9 1549.7,896.6C1553.4,896.4 1560.0,898.3 1560.9,899.6C1561.8,900.9 1558.9,904.3 1555.2,904.6C1551.4,904.8 1539.4,902.4 1538.5,901.1Z" fill="#e8a35a"/>
<path d="M1549.2,902.8 Q1549.7,891.6 1555.9,885.4" fill="none" stroke="#7a1f1c" stroke-width="1.4" stroke-linecap="round"/>
<ellipse cx="1555.9" cy="919.0" rx="9" ry="12" fill="#f47a6a" opacity=".45" filter="url(#bl1)"/>
<path d="M1637.3,931.4C1637.7,924.8 1638.9,917.1 1643.0,911.5C1647.0,905.9 1655.6,899.9 1661.6,897.9C1667.7,895.9 1673.3,899.4 1679.1,899.6C1684.9,899.8 1691.3,896.3 1696.5,899.1C1701.7,901.9 1707.5,909.9 1710.1,916.5C1712.8,923.2 1713.3,931.0 1712.6,938.9C1712.0,946.8 1709.9,956.9 1706.4,963.8C1702.9,970.6 1697.3,977.1 1691.5,980.0C1685.7,982.8 1678.2,982.6 1671.6,980.7C1665.0,978.8 1656.9,973.6 1651.7,968.8C1646.5,963.9 1642.9,957.6 1640.5,951.3C1638.1,945.1 1636.8,938.1 1637.3,931.4Z" fill="url(#appleR)"/>
<path d="M1661.6,905.3C1661.4,903.3 1669.5,899.8 1674.1,899.6C1678.6,899.4 1688.8,902.0 1689.0,904.1C1689.2,906.2 1679.9,911.8 1675.3,912.0C1670.8,912.2 1661.8,907.4 1661.6,905.3Z" fill="#cfc56a" opacity=".9" filter="url(#bl1)"/>
<path d="M1674.1,911.5 L1673.6,894.6" stroke="#8a6a3a" stroke-width="2" stroke-linecap="round"/>
<ellipse cx="1661.6" cy="929.0" rx="12" ry="17" fill="#f6817c" opacity=".4" filter="url(#bl1)"/>
<circle cx="1704.1" cy="951.9" r=".5" fill="#f7b9a6" opacity=".8"/>
<circle cx="1649.2" cy="963.3" r=".5" fill="#f7b9a6" opacity=".8"/>
<circle cx="1698.7" cy="937.7" r=".5" fill="#f7b9a6" opacity=".8"/>
<circle cx="1652.7" cy="929.3" r=".5" fill="#f7b9a6" opacity=".8"/>
<circle cx="1677.6" cy="966.9" r=".5" fill="#f7b9a6" opacity=".8"/>
<circle cx="1684.0" cy="969.5" r=".5" fill="#f7b9a6" opacity=".8"/>
<circle cx="1657.4" cy="936.9" r=".5" fill="#f7b9a6" opacity=".8"/>
<circle cx="1690.8" cy="954.5" r=".5" fill="#f7b9a6" opacity=".8"/>
<circle cx="1669.4" cy="956.2" r=".5" fill="#f7b9a6" opacity=".8"/>
<circle cx="1665.2" cy="922.1" r=".5" fill="#f7b9a6" opacity=".8"/>
<circle cx="1670.0" cy="921.5" r=".5" fill="#f7b9a6" opacity=".8"/>
<circle cx="1683.2" cy="937.3" r=".5" fill="#f7b9a6" opacity=".8"/>
<circle cx="1675.0" cy="951.7" r=".5" fill="#f7b9a6" opacity=".8"/>
<circle cx="1660.2" cy="944.4" r=".5" fill="#f7b9a6" opacity=".8"/>
<circle cx="1645.1" cy="969.6" r=".5" fill="#f7b9a6" opacity=".8"/>
<circle cx="1679.3" cy="973.0" r=".5" fill="#f7b9a6" opacity=".8"/>
<circle cx="1647.7" cy="952.6" r=".5" fill="#f7b9a6" opacity=".8"/>
<circle cx="1689.3" cy="937.0" r=".5" fill="#f7b9a6" opacity=".8"/>
<circle cx="1650.0" cy="927.6" r=".5" fill="#f7b9a6" opacity=".8"/>
<circle cx="1653.1" cy="961.0" r=".5" fill="#f7b9a6" opacity=".8"/>
<circle cx="1649.8" cy="963.6" r=".5" fill="#f7b9a6" opacity=".8"/>
<circle cx="1670.5" cy="948.5" r=".5" fill="#f7b9a6" opacity=".8"/>
<circle cx="1680.8" cy="949.4" r=".5" fill="#f7b9a6" opacity=".8"/>
<circle cx="1685.1" cy="951.9" r=".5" fill="#f7b9a6" opacity=".8"/>
<circle cx="1664.8" cy="959.6" r=".5" fill="#f7b9a6" opacity=".8"/>
<circle cx="1660.3" cy="957.9" r=".5" fill="#f7b9a6" opacity=".8"/>
<circle cx="1691.7" cy="961.5" r=".5" fill="#f7b9a6" opacity=".8"/>
<circle cx="1663.5" cy="961.3" r=".5" fill="#f7b9a6" opacity=".8"/>
<path d="M1606.9,985.2C1605.7,982.7 1612.3,973.4 1616.9,968.8C1621.4,964.2 1628.9,958.0 1634.3,957.6C1639.7,957.1 1648.4,962.7 1649.2,966.3C1650.0,969.8 1643.4,975.8 1639.3,978.7C1635.1,981.6 1629.7,982.6 1624.3,983.7C1618.9,984.8 1608.2,987.7 1606.9,985.2Z" fill="#3f8c33"/>
<path d="M1634.8,985.2C1633.9,983.4 1640.2,975.2 1644.2,973.7C1648.3,972.2 1653.1,974.9 1659.2,976.2C1665.2,977.5 1679.5,980.5 1680.3,981.7C1681.1,982.9 1669.3,982.8 1664.1,983.2C1658.9,983.6 1654.1,983.8 1649.2,984.2C1644.3,984.5 1635.6,986.9 1634.8,985.2Z" fill="#5cb244"/>
<path d="M1608.9,983.7 L1644.2,965.0" stroke="#2c6a25" stroke-width=".7"/>
</g>
</svg>
<div class="t h" style="left:93.19px;top:80.50px;transform:scaleX(0.8625)">DESSERTS</div>
<div class="t h" style="left:92.85px;top:444.00px;transform:scaleX(0.8908)">PASTRY</div>
<div class="t h" style="left:93.30px;top:656.00px;transform:scaleX(0.7807)">HOT</div>
<div class="t h" style="left:239.57px;top:656.00px;transform:scaleX(0.9465)">BEVERAGES</div>
<div class="t h" style="left:1153.19px;top:86.00px;transform:scaleX(0.9055)">SHOTS</div>
<div class="t h" style="left:1152.06px;top:379.80px;transform:scaleX(0.9290)">PAAN</div>
<div class="t h" style="left:1154.08px;top:625.00px;transform:scaleX(0.9215)">JUICES</div>
<div class="t hp" style="left:1509.50px;top:620.70px;transform:scaleX(0.9055)">$7.49</div>
<div class="t i" style="left:90.00px;top:195.30px;transform:scaleX(1.0731)">Vanilla Scoop (Kids Portion)</div>
<div class="t i" style="left:89.89px;top:243.00px;transform:scaleX(1.1094)">Gulab Jamun with Rabdi</div>
<div class="t i" style="left:89.83px;top:291.00px;transform:scaleX(1.0871)">Hot Brownie with Vanilla</div>
<div class="t i" style="left:89.83px;top:338.70px;transform:scaleX(1.0872)">Flame Special Rabadi</div>
<div class="t p" style="left:588.00px;top:194.00px;transform:scaleX(0.9659)">$3.99</div>
<div class="t p" style="left:588.00px;top:242.00px;transform:scaleX(0.9659)">$6.99</div>
<div class="t p" style="left:588.00px;top:290.00px;transform:scaleX(0.9659)">$6.99</div>
<div class="t p" style="left:588.00px;top:338.30px;transform:scaleX(0.9886)">$8.99</div>
<div class="t i" style="left:90.00px;top:558.50px;transform:scaleX(1.0637)">Assorted Pastry</div>
<div class="t p" style="left:588.00px;top:557.80px;transform:scaleX(1.0057)">$6.49</div>
<div class="t i" style="left:89.33px;top:770.70px;transform:scaleX(1.0833)">Masala Tea</div>
<div class="t i" style="left:89.34px;top:818.50px;transform:scaleX(1.0816)">Filter Coffee</div>
<div class="t i" style="left:89.90px;top:866.30px;transform:scaleX(1.0971)">Cardamom Tea</div>
<div class="t i" style="left:89.41px;top:914.00px;transform:scaleX(1.0426)">Kashmiri Pink Tea</div>
<div class="t p" style="left:588.00px;top:773.50px;transform:scaleX(1.0091)">$2.49</div>
<div class="t p" style="left:588.00px;top:821.50px;transform:scaleX(1.0091)">$2.49</div>
<div class="t p" style="left:588.00px;top:869.70px;transform:scaleX(0.9773)">$2.99</div>
<div class="t p" style="left:588.00px;top:917.70px;transform:scaleX(0.9773)">$2.99</div>
<div class="t i" style="left:1149.36px;top:200.00px;transform:scaleX(1.0717)">Lemon Ginger</div>
<div class="t i" style="left:1151.50px;top:248.30px;transform:scaleX(1.0610)">Jamun x 2 (Seasonal)</div>
<div class="t i" style="left:1151.50px;top:296.50px;transform:scaleX(1.0654)">Jamun x 4 (Seasonal)</div>
<div class="t p" style="left:1647.80px;top:199.50px;transform:scaleX(0.9682)">$2.99</div>
<div class="t p" style="left:1647.80px;top:247.80px;transform:scaleX(0.9682)">$6.99</div>
<div class="t p" style="left:1647.80px;top:295.80px;transform:scaleX(0.9185)">$12.99</div>
<div class="t i" style="left:1149.31px;top:494.00px;transform:scaleX(1.0952)">Meetha Paan</div>
<div class="t i" style="left:1149.69px;top:542.00px;transform:scaleX(1.1088)">Chocolate Paan</div>
<div class="t p" style="left:1647.80px;top:493.00px;transform:scaleX(0.9682)">$2.99</div>
<div class="t p" style="left:1647.80px;top:541.30px;transform:scaleX(0.9682)">$3.79</div>
<div class="t i" style="left:1154.88px;top:746.50px;transform:scaleX(1.1224)">Carrot</div>
<div class="t i" style="left:1156.50px;top:794.50px;transform:scaleX(1.1111)">Apple</div>
<div class="t i" style="left:1154.89px;top:842.80px;transform:scaleX(1.1111)">Orange</div>
<div class="t i" style="left:1154.88px;top:890.70px;transform:scaleX(1.1157)">Carrot &amp; Apple</div>
<div class="t i" style="left:1154.88px;top:938.30px;transform:scaleX(1.0582)">Mix Fruit</div>
</body></html>
